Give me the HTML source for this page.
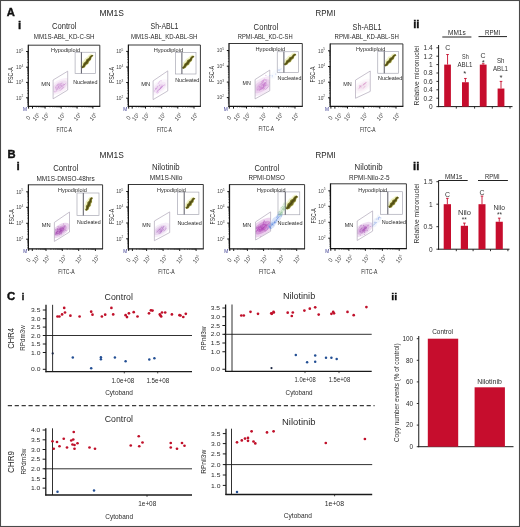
<!DOCTYPE html>
<html><head><meta charset="utf-8"><style>
html,body{margin:0;padding:0;background:#fff;width:520px;height:527px;overflow:hidden}
svg{display:block;filter:blur(0.35px)}
text{font-family:"Liberation Sans", sans-serif}
</style></head><body>
<svg width="520" height="527" viewBox="0 0 520 527">
<rect width="520" height="527" fill="#fff"/>
<rect x="0.50" y="0.50" width="519.00" height="526.00" fill="none" stroke="#4a4a4a" stroke-width="1.1"/>
<text x="6.80" y="16.00" font-size="11.2" fill="#111" font-weight="bold" text-anchor="start" stroke="#111" stroke-width="0.4">A</text>
<text x="18.10" y="28.80" font-size="11.6" fill="#111" font-weight="bold" text-anchor="start" stroke="#111" stroke-width="0.35">i</text>
<text x="7.40" y="157.80" font-size="11.2" fill="#111" font-weight="bold" text-anchor="start" stroke="#111" stroke-width="0.4">B</text>
<text x="16.50" y="170.20" font-size="11.6" fill="#111" font-weight="bold" text-anchor="start" stroke="#111" stroke-width="0.35">i</text>
<text x="7.00" y="300.30" font-size="11.4" fill="#111" font-weight="bold" text-anchor="start" stroke="#111" stroke-width="0.45">C</text>
<text x="21.80" y="300.00" font-size="9.0" fill="#111" font-weight="bold" text-anchor="start" stroke="#111" stroke-width="0.4">i</text>
<text x="413.20" y="28.00" font-size="11.0" fill="#111" font-weight="bold" textLength="6.30" lengthAdjust="spacingAndGlyphs" text-anchor="start" stroke="#111" stroke-width="0.35">ii</text>
<text x="413.00" y="170.00" font-size="11.0" fill="#111" font-weight="bold" textLength="6.30" lengthAdjust="spacingAndGlyphs" text-anchor="start" stroke="#111" stroke-width="0.35">ii</text>
<text x="391.30" y="299.80" font-size="9.6" fill="#111" font-weight="bold" textLength="6.00" lengthAdjust="spacingAndGlyphs" text-anchor="start" stroke="#111" stroke-width="0.3">ii</text>
<text x="99.50" y="16.00" font-size="8.6" fill="#1e1e1e" textLength="24.50" lengthAdjust="spacingAndGlyphs" text-anchor="start">MM1S</text>
<text x="315.60" y="15.90" font-size="8.6" fill="#1e1e1e" textLength="19.80" lengthAdjust="spacingAndGlyphs" text-anchor="start">RPMI</text>
<text x="99.60" y="157.60" font-size="8.6" fill="#1e1e1e" textLength="24.20" lengthAdjust="spacingAndGlyphs" text-anchor="start">MM1S</text>
<text x="315.60" y="157.60" font-size="8.6" fill="#1e1e1e" textLength="20.00" lengthAdjust="spacingAndGlyphs" text-anchor="start">RPMI</text>
<text x="52.00" y="28.70" font-size="8.3" fill="#2a2a2a" textLength="24.50" lengthAdjust="spacingAndGlyphs" text-anchor="start">Control</text>
<text x="33.75" y="38.60" font-size="6.4" fill="#2a2a2a" textLength="60.80" lengthAdjust="spacingAndGlyphs" text-anchor="start">MM1S-ABL_KD-C-SH</text>
<path d="M82.58,68.47 L85.05,67.39 L86.46,65.46 L88.60,64.12 L89.55,61.82 L91.21,60.09 L91.77,57.48 L93.55,55.85 L90.98,53.77 L88.83,55.10 L87.33,56.96 L85.05,58.19 L83.94,60.36 L82.14,61.98 L81.49,64.52 L80.02,66.40 Z" fill="#eef0b8" opacity="0.8"/>
<path d="M82.46,68.37 L84.78,67.18 L85.95,65.05 L88.09,63.71 L89.00,61.38 L90.87,59.82 L91.56,57.31 L93.50,55.81 L92.04,54.63 L89.89,55.96 L88.67,58.05 L86.45,59.32 L85.45,61.58 L83.50,63.08 L82.76,65.55 L81.00,67.19 Z" fill="#7a7628"/>
<path d="M82.13,68.10 L84.14,66.66 L85.34,64.56 L87.28,63.05 L88.37,60.87 L90.18,59.26 L91.17,57.00 L93.01,55.42 L92.37,54.90 L90.44,56.40 L89.21,58.48 L87.24,59.96 L86.11,62.12 L84.27,63.69 L83.25,65.94 L81.49,67.58 Z" fill="#504c14"/>
<rect x="75.10" y="52.25" width="20.40" height="21.25" fill="none" stroke="#a8a8b4" stroke-width="0.7"/>
<line x1="81.40" y1="52.25" x2="81.40" y2="73.50" stroke="#5a5a66" stroke-width="1.0"/>
<clipPath id="cp1"><path d="M53.10,80.00 L67.70,71.20 L67.70,90.00 L53.10,98.80 Z"/></clipPath><g clip-path="url(#cp1)">
<ellipse cx="59.67" cy="86.38" rx="12.65" ry="6.32" fill="#c070c8" opacity="0.10" transform="rotate(-31.1 59.67 86.38)"/>
<ellipse cx="59.67" cy="86.38" rx="8.62" ry="4.37" fill="#c070c8" opacity="0.14" transform="rotate(-31.1 59.67 86.38)"/>
<ellipse cx="59.67" cy="86.38" rx="5.17" ry="2.76" fill="#c070c8" opacity="0.17" transform="rotate(-31.1 59.67 86.38)"/>
<circle cx="59.32" cy="87.96" r="0.55" fill="#c070c8" opacity="0.45"/>
<circle cx="58.45" cy="86.27" r="0.55" fill="#c070c8" opacity="0.45"/>
<circle cx="55.94" cy="88.06" r="0.55" fill="#c070c8" opacity="0.45"/>
<circle cx="64.34" cy="84.71" r="0.55" fill="#c070c8" opacity="0.45"/>
<circle cx="63.85" cy="84.53" r="0.55" fill="#c070c8" opacity="0.45"/>
<circle cx="61.37" cy="85.85" r="0.55" fill="#c070c8" opacity="0.45"/>
<circle cx="54.45" cy="91.82" r="0.55" fill="#c070c8" opacity="0.45"/>
<circle cx="62.16" cy="86.22" r="0.55" fill="#c070c8" opacity="0.45"/>
<circle cx="51.27" cy="86.76" r="0.55" fill="#c070c8" opacity="0.45"/>
<circle cx="55.78" cy="87.46" r="0.55" fill="#c070c8" opacity="0.45"/>
<circle cx="60.76" cy="85.60" r="0.55" fill="#c070c8" opacity="0.45"/>
<circle cx="60.86" cy="83.94" r="0.55" fill="#c070c8" opacity="0.45"/>
<line x1="59.53" y1="88.60" x2="62.66" y2="84.77" stroke="#c070c8" stroke-width="0.6" opacity="0.55"/>
<line x1="61.55" y1="89.21" x2="64.21" y2="86.75" stroke="#c070c8" stroke-width="0.6" opacity="0.55"/>
<line x1="57.66" y1="88.06" x2="59.37" y2="85.46" stroke="#c070c8" stroke-width="0.6" opacity="0.55"/>
<line x1="55.75" y1="86.75" x2="58.45" y2="83.46" stroke="#c070c8" stroke-width="0.6" opacity="0.55"/>
<line x1="55.82" y1="89.80" x2="59.39" y2="86.90" stroke="#c070c8" stroke-width="0.6" opacity="0.55"/>
<line x1="59.72" y1="90.95" x2="63.32" y2="87.30" stroke="#c070c8" stroke-width="0.6" opacity="0.55"/>
<line x1="57.11" y1="85.61" x2="59.46" y2="83.99" stroke="#c070c8" stroke-width="0.6" opacity="0.55"/>
<line x1="55.27" y1="92.40" x2="57.58" y2="89.17" stroke="#c070c8" stroke-width="0.6" opacity="0.55"/>
<line x1="62.78" y1="85.95" x2="66.02" y2="83.25" stroke="#c070c8" stroke-width="0.6" opacity="0.55"/>
<line x1="59.08" y1="85.37" x2="62.30" y2="82.54" stroke="#c070c8" stroke-width="0.6" opacity="0.55"/>
</g>
<path d="M53.10,80.00 L67.70,71.20 L67.70,90.00 L53.10,98.80 Z" fill="none" stroke="#aaa0b4" stroke-width="0.65"/>
<line x1="28.30" y1="45.20" x2="99.80" y2="45.20" stroke="#383838" stroke-width="1.0"/>
<line x1="99.80" y1="45.20" x2="99.80" y2="106.40" stroke="#383838" stroke-width="1.0"/>
<line x1="28.30" y1="44.80" x2="28.30" y2="107.00" stroke="#151515" stroke-width="1.25"/>
<line x1="27.70" y1="106.40" x2="100.25" y2="106.40" stroke="#151515" stroke-width="1.25"/>
<line x1="26.10" y1="51.50" x2="28.30" y2="51.50" stroke="#151515" stroke-width="1.0"/>
<text x="16.10" y="53.20" font-size="4.8" fill="#444">10<tspan font-size="3.2" dy="-2.2">5</tspan></text>
<line x1="27.20" y1="62.47" x2="28.30" y2="62.47" stroke="#151515" stroke-width="0.6"/>
<line x1="27.20" y1="59.71" x2="28.30" y2="59.71" stroke="#151515" stroke-width="0.6"/>
<line x1="27.20" y1="57.75" x2="28.30" y2="57.75" stroke="#151515" stroke-width="0.6"/>
<line x1="27.20" y1="56.23" x2="28.30" y2="56.23" stroke="#151515" stroke-width="0.6"/>
<line x1="27.20" y1="54.98" x2="28.30" y2="54.98" stroke="#151515" stroke-width="0.6"/>
<line x1="27.20" y1="53.93" x2="28.30" y2="53.93" stroke="#151515" stroke-width="0.6"/>
<line x1="27.20" y1="53.02" x2="28.30" y2="53.02" stroke="#151515" stroke-width="0.6"/>
<line x1="27.20" y1="52.22" x2="28.30" y2="52.22" stroke="#151515" stroke-width="0.6"/>
<line x1="26.10" y1="67.20" x2="28.30" y2="67.20" stroke="#151515" stroke-width="1.0"/>
<text x="16.10" y="68.90" font-size="4.8" fill="#444">10<tspan font-size="3.2" dy="-2.2">4</tspan></text>
<line x1="27.20" y1="78.17" x2="28.30" y2="78.17" stroke="#151515" stroke-width="0.6"/>
<line x1="27.20" y1="75.41" x2="28.30" y2="75.41" stroke="#151515" stroke-width="0.6"/>
<line x1="27.20" y1="73.45" x2="28.30" y2="73.45" stroke="#151515" stroke-width="0.6"/>
<line x1="27.20" y1="71.93" x2="28.30" y2="71.93" stroke="#151515" stroke-width="0.6"/>
<line x1="27.20" y1="70.68" x2="28.30" y2="70.68" stroke="#151515" stroke-width="0.6"/>
<line x1="27.20" y1="69.63" x2="28.30" y2="69.63" stroke="#151515" stroke-width="0.6"/>
<line x1="27.20" y1="68.72" x2="28.30" y2="68.72" stroke="#151515" stroke-width="0.6"/>
<line x1="27.20" y1="67.92" x2="28.30" y2="67.92" stroke="#151515" stroke-width="0.6"/>
<line x1="26.10" y1="82.40" x2="28.30" y2="82.40" stroke="#151515" stroke-width="1.0"/>
<text x="16.10" y="84.10" font-size="4.8" fill="#444">10<tspan font-size="3.2" dy="-2.2">3</tspan></text>
<line x1="27.20" y1="93.37" x2="28.30" y2="93.37" stroke="#151515" stroke-width="0.6"/>
<line x1="27.20" y1="90.61" x2="28.30" y2="90.61" stroke="#151515" stroke-width="0.6"/>
<line x1="27.20" y1="88.65" x2="28.30" y2="88.65" stroke="#151515" stroke-width="0.6"/>
<line x1="27.20" y1="87.13" x2="28.30" y2="87.13" stroke="#151515" stroke-width="0.6"/>
<line x1="27.20" y1="85.88" x2="28.30" y2="85.88" stroke="#151515" stroke-width="0.6"/>
<line x1="27.20" y1="84.83" x2="28.30" y2="84.83" stroke="#151515" stroke-width="0.6"/>
<line x1="27.20" y1="83.92" x2="28.30" y2="83.92" stroke="#151515" stroke-width="0.6"/>
<line x1="27.20" y1="83.12" x2="28.30" y2="83.12" stroke="#151515" stroke-width="0.6"/>
<line x1="26.10" y1="97.80" x2="28.30" y2="97.80" stroke="#151515" stroke-width="1.0"/>
<text x="16.10" y="99.50" font-size="4.8" fill="#444">10<tspan font-size="3.2" dy="-2.2">2</tspan></text>
<line x1="27.20" y1="104.05" x2="28.30" y2="104.05" stroke="#151515" stroke-width="0.6"/>
<line x1="27.20" y1="102.53" x2="28.30" y2="102.53" stroke="#151515" stroke-width="0.6"/>
<line x1="27.20" y1="101.28" x2="28.30" y2="101.28" stroke="#151515" stroke-width="0.6"/>
<line x1="27.20" y1="100.23" x2="28.30" y2="100.23" stroke="#151515" stroke-width="0.6"/>
<line x1="27.20" y1="99.32" x2="28.30" y2="99.32" stroke="#151515" stroke-width="0.6"/>
<line x1="27.20" y1="98.52" x2="28.30" y2="98.52" stroke="#151515" stroke-width="0.6"/>
<line x1="28.60" y1="106.40" x2="28.60" y2="108.60" stroke="#151515" stroke-width="1.0"/>
<line x1="32.50" y1="106.40" x2="32.50" y2="108.60" stroke="#151515" stroke-width="1.0"/>
<line x1="45.10" y1="106.40" x2="45.10" y2="108.60" stroke="#151515" stroke-width="1.0"/>
<line x1="61.20" y1="106.40" x2="61.20" y2="108.60" stroke="#151515" stroke-width="1.0"/>
<line x1="77.10" y1="106.40" x2="77.10" y2="108.60" stroke="#151515" stroke-width="1.0"/>
<line x1="92.90" y1="106.40" x2="92.90" y2="108.60" stroke="#151515" stroke-width="1.0"/>
<line x1="49.95" y1="106.40" x2="49.95" y2="107.50" stroke="#151515" stroke-width="0.55"/>
<line x1="52.78" y1="106.40" x2="52.78" y2="107.50" stroke="#151515" stroke-width="0.55"/>
<line x1="54.79" y1="106.40" x2="54.79" y2="107.50" stroke="#151515" stroke-width="0.55"/>
<line x1="56.35" y1="106.40" x2="56.35" y2="107.50" stroke="#151515" stroke-width="0.55"/>
<line x1="57.63" y1="106.40" x2="57.63" y2="107.50" stroke="#151515" stroke-width="0.55"/>
<line x1="58.71" y1="106.40" x2="58.71" y2="107.50" stroke="#151515" stroke-width="0.55"/>
<line x1="59.64" y1="106.40" x2="59.64" y2="107.50" stroke="#151515" stroke-width="0.55"/>
<line x1="60.46" y1="106.40" x2="60.46" y2="107.50" stroke="#151515" stroke-width="0.55"/>
<line x1="66.05" y1="106.40" x2="66.05" y2="107.50" stroke="#151515" stroke-width="0.55"/>
<line x1="68.88" y1="106.40" x2="68.88" y2="107.50" stroke="#151515" stroke-width="0.55"/>
<line x1="70.89" y1="106.40" x2="70.89" y2="107.50" stroke="#151515" stroke-width="0.55"/>
<line x1="72.45" y1="106.40" x2="72.45" y2="107.50" stroke="#151515" stroke-width="0.55"/>
<line x1="73.73" y1="106.40" x2="73.73" y2="107.50" stroke="#151515" stroke-width="0.55"/>
<line x1="74.81" y1="106.40" x2="74.81" y2="107.50" stroke="#151515" stroke-width="0.55"/>
<line x1="75.74" y1="106.40" x2="75.74" y2="107.50" stroke="#151515" stroke-width="0.55"/>
<line x1="76.56" y1="106.40" x2="76.56" y2="107.50" stroke="#151515" stroke-width="0.55"/>
<line x1="81.95" y1="106.40" x2="81.95" y2="107.50" stroke="#151515" stroke-width="0.55"/>
<line x1="84.78" y1="106.40" x2="84.78" y2="107.50" stroke="#151515" stroke-width="0.55"/>
<line x1="86.79" y1="106.40" x2="86.79" y2="107.50" stroke="#151515" stroke-width="0.55"/>
<line x1="88.35" y1="106.40" x2="88.35" y2="107.50" stroke="#151515" stroke-width="0.55"/>
<line x1="89.63" y1="106.40" x2="89.63" y2="107.50" stroke="#151515" stroke-width="0.55"/>
<line x1="90.71" y1="106.40" x2="90.71" y2="107.50" stroke="#151515" stroke-width="0.55"/>
<line x1="91.64" y1="106.40" x2="91.64" y2="107.50" stroke="#151515" stroke-width="0.55"/>
<line x1="92.46" y1="106.40" x2="92.46" y2="107.50" stroke="#151515" stroke-width="0.55"/>
<line x1="36.29" y1="106.40" x2="36.29" y2="107.50" stroke="#151515" stroke-width="0.55"/>
<line x1="38.51" y1="106.40" x2="38.51" y2="107.50" stroke="#151515" stroke-width="0.55"/>
<line x1="40.09" y1="106.40" x2="40.09" y2="107.50" stroke="#151515" stroke-width="0.55"/>
<line x1="41.31" y1="106.40" x2="41.31" y2="107.50" stroke="#151515" stroke-width="0.55"/>
<line x1="42.30" y1="106.40" x2="42.30" y2="107.50" stroke="#151515" stroke-width="0.55"/>
<line x1="43.15" y1="106.40" x2="43.15" y2="107.50" stroke="#151515" stroke-width="0.55"/>
<line x1="43.88" y1="106.40" x2="43.88" y2="107.50" stroke="#151515" stroke-width="0.55"/>
<line x1="44.52" y1="106.40" x2="44.52" y2="107.50" stroke="#151515" stroke-width="0.55"/>
<text x="29.80" y="118.90" font-size="5.8" fill="#3a3a3a" text-anchor="middle" transform="rotate(-52 29.80 118.90)">0</text>
<text x="37.70" y="118.10" font-size="5.8" fill="#3a3a3a" text-anchor="middle" transform="rotate(-52 37.70 118.10)">10<tspan font-size="3.2" dy="-2.2">1</tspan></text>
<text x="47.00" y="118.10" font-size="5.8" fill="#3a3a3a" text-anchor="middle" transform="rotate(-52 47.00 118.10)">10<tspan font-size="3.2" dy="-2.2">2</tspan></text>
<text x="63.10" y="118.10" font-size="5.8" fill="#3a3a3a" text-anchor="middle" transform="rotate(-52 63.10 118.10)">10<tspan font-size="3.2" dy="-2.2">3</tspan></text>
<text x="79.00" y="118.10" font-size="5.8" fill="#3a3a3a" text-anchor="middle" transform="rotate(-52 79.00 118.10)">10<tspan font-size="3.2" dy="-2.2">4</tspan></text>
<text x="94.80" y="118.10" font-size="5.8" fill="#3a3a3a" text-anchor="middle" transform="rotate(-52 94.80 118.10)">10<tspan font-size="3.2" dy="-2.2">5</tspan></text>
<text x="23.10" y="110.70" font-size="4.8" fill="#3a3a90" text-anchor="start">M</text>
<text x="56.50" y="131.50" font-size="7.6" fill="#2a2a2a" textLength="15.50" lengthAdjust="spacingAndGlyphs" text-anchor="start">FITC-A</text>
<text x="13.50" y="83.20" font-size="7.8" fill="#2a2a2a" textLength="16.00" lengthAdjust="spacingAndGlyphs" text-anchor="start" transform="rotate(-90 13.50 83.20)">FSC-A</text>
<text x="51.00" y="51.70" font-size="5.7" fill="#2a2a2a" textLength="29.00" lengthAdjust="spacingAndGlyphs" text-anchor="start">Hypodiploid</text>
<text x="73.20" y="84.00" font-size="5.6" fill="#2a2a2a" textLength="24.30" lengthAdjust="spacingAndGlyphs" text-anchor="start">Nucleated</text>
<text x="41.30" y="86.00" font-size="5.6" fill="#2a2a2a" textLength="9.10" lengthAdjust="spacingAndGlyphs" text-anchor="start">MN</text>
<text x="150.60" y="29.30" font-size="8.3" fill="#2a2a2a" textLength="27.90" lengthAdjust="spacingAndGlyphs" text-anchor="start">Sh-ABL1</text>
<text x="130.90" y="38.50" font-size="6.4" fill="#2a2a2a" textLength="66.60" lengthAdjust="spacingAndGlyphs" text-anchor="start">MM1S-ABL_KD-ABL-SH</text>
<path d="M183.37,68.99 L185.84,68.01 L187.28,66.15 L189.43,64.90 L190.43,62.65 L192.11,61.00 L192.72,58.43 L194.53,56.88 L192.02,54.73 L189.85,55.97 L188.32,57.76 L186.03,58.89 L184.88,61.00 L183.06,62.54 L182.36,65.03 L180.86,66.84 Z" fill="#eef0b8" opacity="0.8"/>
<path d="M183.24,68.88 L185.58,67.79 L186.79,65.72 L188.94,64.47 L189.89,62.20 L191.78,60.72 L192.52,58.25 L194.48,56.84 L193.06,55.62 L190.89,56.86 L189.64,58.88 L187.40,60.06 L186.36,62.27 L184.40,63.68 L183.61,66.10 L181.82,67.66 Z" fill="#7a7628"/>
<path d="M182.92,68.60 L184.95,67.25 L186.19,65.22 L188.14,63.79 L189.27,61.66 L191.10,60.14 L192.14,57.93 L194.00,56.43 L193.38,55.90 L191.42,57.32 L190.16,59.33 L188.18,60.73 L187.01,62.82 L185.14,64.32 L184.08,66.51 L182.30,68.07 Z" fill="#504c14"/>
<rect x="175.60" y="52.50" width="20.40" height="21.50" fill="none" stroke="#a8a8b4" stroke-width="0.7"/>
<line x1="181.90" y1="52.50" x2="181.90" y2="74.00" stroke="#5a5a66" stroke-width="1.0"/>
<clipPath id="cp2"><path d="M153.10,80.90 L167.75,70.90 L167.75,90.90 L153.10,99.60 Z"/></clipPath><g clip-path="url(#cp2)">
<ellipse cx="159.25" cy="87.29" rx="11.55" ry="5.78" fill="#b868c8" opacity="0.06" transform="rotate(-34.3 159.25 87.29)"/>
<ellipse cx="159.25" cy="87.29" rx="7.88" ry="3.99" fill="#b868c8" opacity="0.09" transform="rotate(-34.3 159.25 87.29)"/>
<ellipse cx="159.25" cy="87.29" rx="4.73" ry="2.52" fill="#b868c8" opacity="0.11" transform="rotate(-34.3 159.25 87.29)"/>
<circle cx="155.44" cy="88.54" r="0.55" fill="#b868c8" opacity="0.45"/>
<circle cx="161.09" cy="80.86" r="0.55" fill="#b868c8" opacity="0.45"/>
<circle cx="154.73" cy="90.98" r="0.55" fill="#b868c8" opacity="0.45"/>
<circle cx="164.69" cy="85.04" r="0.55" fill="#b868c8" opacity="0.45"/>
<circle cx="150.01" cy="87.19" r="0.55" fill="#b868c8" opacity="0.45"/>
<circle cx="159.56" cy="85.20" r="0.55" fill="#b868c8" opacity="0.45"/>
<line x1="156.66" y1="92.83" x2="158.56" y2="89.44" stroke="#b868c8" stroke-width="0.6" opacity="0.55"/>
<line x1="159.25" y1="89.76" x2="161.66" y2="85.60" stroke="#b868c8" stroke-width="0.6" opacity="0.55"/>
<line x1="159.74" y1="89.42" x2="162.89" y2="85.40" stroke="#b868c8" stroke-width="0.6" opacity="0.55"/>
<line x1="160.71" y1="88.52" x2="164.15" y2="84.68" stroke="#b868c8" stroke-width="0.6" opacity="0.55"/>
<line x1="158.00" y1="83.86" x2="160.17" y2="80.81" stroke="#b868c8" stroke-width="0.6" opacity="0.55"/>
<line x1="156.78" y1="93.60" x2="159.10" y2="91.77" stroke="#b868c8" stroke-width="0.6" opacity="0.55"/>
<line x1="159.83" y1="89.58" x2="162.06" y2="86.31" stroke="#b868c8" stroke-width="0.6" opacity="0.55"/>
<line x1="156.09" y1="89.32" x2="157.90" y2="86.02" stroke="#b868c8" stroke-width="0.6" opacity="0.55"/>
<line x1="156.40" y1="92.08" x2="159.99" y2="89.23" stroke="#b868c8" stroke-width="0.6" opacity="0.55"/>
<line x1="154.55" y1="90.42" x2="156.43" y2="88.54" stroke="#b868c8" stroke-width="0.6" opacity="0.55"/>
</g>
<path d="M153.10,80.90 L167.75,70.90 L167.75,90.90 L153.10,99.60 Z" fill="none" stroke="#aaa0b4" stroke-width="0.65"/>
<line x1="128.40" y1="45.00" x2="200.40" y2="45.00" stroke="#383838" stroke-width="1.0"/>
<line x1="200.40" y1="45.00" x2="200.40" y2="106.40" stroke="#383838" stroke-width="1.0"/>
<line x1="128.40" y1="44.60" x2="128.40" y2="107.00" stroke="#151515" stroke-width="1.25"/>
<line x1="127.80" y1="106.40" x2="200.85" y2="106.40" stroke="#151515" stroke-width="1.25"/>
<line x1="126.20" y1="51.40" x2="128.40" y2="51.40" stroke="#151515" stroke-width="1.0"/>
<text x="116.20" y="53.10" font-size="4.8" fill="#444">10<tspan font-size="3.2" dy="-2.2">5</tspan></text>
<line x1="127.30" y1="62.30" x2="128.40" y2="62.30" stroke="#151515" stroke-width="0.6"/>
<line x1="127.30" y1="59.56" x2="128.40" y2="59.56" stroke="#151515" stroke-width="0.6"/>
<line x1="127.30" y1="57.61" x2="128.40" y2="57.61" stroke="#151515" stroke-width="0.6"/>
<line x1="127.30" y1="56.10" x2="128.40" y2="56.10" stroke="#151515" stroke-width="0.6"/>
<line x1="127.30" y1="54.86" x2="128.40" y2="54.86" stroke="#151515" stroke-width="0.6"/>
<line x1="127.30" y1="53.82" x2="128.40" y2="53.82" stroke="#151515" stroke-width="0.6"/>
<line x1="127.30" y1="52.91" x2="128.40" y2="52.91" stroke="#151515" stroke-width="0.6"/>
<line x1="127.30" y1="52.11" x2="128.40" y2="52.11" stroke="#151515" stroke-width="0.6"/>
<line x1="126.20" y1="67.00" x2="128.40" y2="67.00" stroke="#151515" stroke-width="1.0"/>
<text x="116.20" y="68.70" font-size="4.8" fill="#444">10<tspan font-size="3.2" dy="-2.2">4</tspan></text>
<line x1="127.30" y1="77.90" x2="128.40" y2="77.90" stroke="#151515" stroke-width="0.6"/>
<line x1="127.30" y1="75.16" x2="128.40" y2="75.16" stroke="#151515" stroke-width="0.6"/>
<line x1="127.30" y1="73.21" x2="128.40" y2="73.21" stroke="#151515" stroke-width="0.6"/>
<line x1="127.30" y1="71.70" x2="128.40" y2="71.70" stroke="#151515" stroke-width="0.6"/>
<line x1="127.30" y1="70.46" x2="128.40" y2="70.46" stroke="#151515" stroke-width="0.6"/>
<line x1="127.30" y1="69.42" x2="128.40" y2="69.42" stroke="#151515" stroke-width="0.6"/>
<line x1="127.30" y1="68.51" x2="128.40" y2="68.51" stroke="#151515" stroke-width="0.6"/>
<line x1="127.30" y1="67.71" x2="128.40" y2="67.71" stroke="#151515" stroke-width="0.6"/>
<line x1="126.20" y1="82.50" x2="128.40" y2="82.50" stroke="#151515" stroke-width="1.0"/>
<text x="116.20" y="84.20" font-size="4.8" fill="#444">10<tspan font-size="3.2" dy="-2.2">3</tspan></text>
<line x1="127.30" y1="93.40" x2="128.40" y2="93.40" stroke="#151515" stroke-width="0.6"/>
<line x1="127.30" y1="90.66" x2="128.40" y2="90.66" stroke="#151515" stroke-width="0.6"/>
<line x1="127.30" y1="88.71" x2="128.40" y2="88.71" stroke="#151515" stroke-width="0.6"/>
<line x1="127.30" y1="87.20" x2="128.40" y2="87.20" stroke="#151515" stroke-width="0.6"/>
<line x1="127.30" y1="85.96" x2="128.40" y2="85.96" stroke="#151515" stroke-width="0.6"/>
<line x1="127.30" y1="84.92" x2="128.40" y2="84.92" stroke="#151515" stroke-width="0.6"/>
<line x1="127.30" y1="84.01" x2="128.40" y2="84.01" stroke="#151515" stroke-width="0.6"/>
<line x1="127.30" y1="83.21" x2="128.40" y2="83.21" stroke="#151515" stroke-width="0.6"/>
<line x1="126.20" y1="98.20" x2="128.40" y2="98.20" stroke="#151515" stroke-width="1.0"/>
<text x="116.20" y="99.90" font-size="4.8" fill="#444">10<tspan font-size="3.2" dy="-2.2">2</tspan></text>
<line x1="127.30" y1="104.41" x2="128.40" y2="104.41" stroke="#151515" stroke-width="0.6"/>
<line x1="127.30" y1="102.90" x2="128.40" y2="102.90" stroke="#151515" stroke-width="0.6"/>
<line x1="127.30" y1="101.66" x2="128.40" y2="101.66" stroke="#151515" stroke-width="0.6"/>
<line x1="127.30" y1="100.62" x2="128.40" y2="100.62" stroke="#151515" stroke-width="0.6"/>
<line x1="127.30" y1="99.71" x2="128.40" y2="99.71" stroke="#151515" stroke-width="0.6"/>
<line x1="127.30" y1="98.91" x2="128.40" y2="98.91" stroke="#151515" stroke-width="0.6"/>
<line x1="128.70" y1="106.40" x2="128.70" y2="108.60" stroke="#151515" stroke-width="1.0"/>
<line x1="132.20" y1="106.40" x2="132.20" y2="108.60" stroke="#151515" stroke-width="1.0"/>
<line x1="145.50" y1="106.40" x2="145.50" y2="108.60" stroke="#151515" stroke-width="1.0"/>
<line x1="161.70" y1="106.40" x2="161.70" y2="108.60" stroke="#151515" stroke-width="1.0"/>
<line x1="177.80" y1="106.40" x2="177.80" y2="108.60" stroke="#151515" stroke-width="1.0"/>
<line x1="194.00" y1="106.40" x2="194.00" y2="108.60" stroke="#151515" stroke-width="1.0"/>
<line x1="150.38" y1="106.40" x2="150.38" y2="107.50" stroke="#151515" stroke-width="0.55"/>
<line x1="153.23" y1="106.40" x2="153.23" y2="107.50" stroke="#151515" stroke-width="0.55"/>
<line x1="155.25" y1="106.40" x2="155.25" y2="107.50" stroke="#151515" stroke-width="0.55"/>
<line x1="156.82" y1="106.40" x2="156.82" y2="107.50" stroke="#151515" stroke-width="0.55"/>
<line x1="158.11" y1="106.40" x2="158.11" y2="107.50" stroke="#151515" stroke-width="0.55"/>
<line x1="159.19" y1="106.40" x2="159.19" y2="107.50" stroke="#151515" stroke-width="0.55"/>
<line x1="160.13" y1="106.40" x2="160.13" y2="107.50" stroke="#151515" stroke-width="0.55"/>
<line x1="160.96" y1="106.40" x2="160.96" y2="107.50" stroke="#151515" stroke-width="0.55"/>
<line x1="166.58" y1="106.40" x2="166.58" y2="107.50" stroke="#151515" stroke-width="0.55"/>
<line x1="169.43" y1="106.40" x2="169.43" y2="107.50" stroke="#151515" stroke-width="0.55"/>
<line x1="171.45" y1="106.40" x2="171.45" y2="107.50" stroke="#151515" stroke-width="0.55"/>
<line x1="173.02" y1="106.40" x2="173.02" y2="107.50" stroke="#151515" stroke-width="0.55"/>
<line x1="174.31" y1="106.40" x2="174.31" y2="107.50" stroke="#151515" stroke-width="0.55"/>
<line x1="175.39" y1="106.40" x2="175.39" y2="107.50" stroke="#151515" stroke-width="0.55"/>
<line x1="176.33" y1="106.40" x2="176.33" y2="107.50" stroke="#151515" stroke-width="0.55"/>
<line x1="177.16" y1="106.40" x2="177.16" y2="107.50" stroke="#151515" stroke-width="0.55"/>
<line x1="182.68" y1="106.40" x2="182.68" y2="107.50" stroke="#151515" stroke-width="0.55"/>
<line x1="185.53" y1="106.40" x2="185.53" y2="107.50" stroke="#151515" stroke-width="0.55"/>
<line x1="187.55" y1="106.40" x2="187.55" y2="107.50" stroke="#151515" stroke-width="0.55"/>
<line x1="189.12" y1="106.40" x2="189.12" y2="107.50" stroke="#151515" stroke-width="0.55"/>
<line x1="190.41" y1="106.40" x2="190.41" y2="107.50" stroke="#151515" stroke-width="0.55"/>
<line x1="191.49" y1="106.40" x2="191.49" y2="107.50" stroke="#151515" stroke-width="0.55"/>
<line x1="192.43" y1="106.40" x2="192.43" y2="107.50" stroke="#151515" stroke-width="0.55"/>
<line x1="193.26" y1="106.40" x2="193.26" y2="107.50" stroke="#151515" stroke-width="0.55"/>
<line x1="136.20" y1="106.40" x2="136.20" y2="107.50" stroke="#151515" stroke-width="0.55"/>
<line x1="138.55" y1="106.40" x2="138.55" y2="107.50" stroke="#151515" stroke-width="0.55"/>
<line x1="140.21" y1="106.40" x2="140.21" y2="107.50" stroke="#151515" stroke-width="0.55"/>
<line x1="141.50" y1="106.40" x2="141.50" y2="107.50" stroke="#151515" stroke-width="0.55"/>
<line x1="142.55" y1="106.40" x2="142.55" y2="107.50" stroke="#151515" stroke-width="0.55"/>
<line x1="143.44" y1="106.40" x2="143.44" y2="107.50" stroke="#151515" stroke-width="0.55"/>
<line x1="144.21" y1="106.40" x2="144.21" y2="107.50" stroke="#151515" stroke-width="0.55"/>
<line x1="144.89" y1="106.40" x2="144.89" y2="107.50" stroke="#151515" stroke-width="0.55"/>
<text x="129.90" y="118.90" font-size="5.8" fill="#3a3a3a" text-anchor="middle" transform="rotate(-52 129.90 118.90)">0</text>
<text x="137.40" y="118.10" font-size="5.8" fill="#3a3a3a" text-anchor="middle" transform="rotate(-52 137.40 118.10)">10<tspan font-size="3.2" dy="-2.2">1</tspan></text>
<text x="147.40" y="118.10" font-size="5.8" fill="#3a3a3a" text-anchor="middle" transform="rotate(-52 147.40 118.10)">10<tspan font-size="3.2" dy="-2.2">2</tspan></text>
<text x="163.60" y="118.10" font-size="5.8" fill="#3a3a3a" text-anchor="middle" transform="rotate(-52 163.60 118.10)">10<tspan font-size="3.2" dy="-2.2">3</tspan></text>
<text x="179.70" y="118.10" font-size="5.8" fill="#3a3a3a" text-anchor="middle" transform="rotate(-52 179.70 118.10)">10<tspan font-size="3.2" dy="-2.2">4</tspan></text>
<text x="195.90" y="118.10" font-size="5.8" fill="#3a3a3a" text-anchor="middle" transform="rotate(-52 195.90 118.10)">10<tspan font-size="3.2" dy="-2.2">5</tspan></text>
<text x="123.20" y="110.70" font-size="4.8" fill="#3a3a90" text-anchor="start">M</text>
<text x="156.90" y="131.50" font-size="7.6" fill="#2a2a2a" textLength="15.00" lengthAdjust="spacingAndGlyphs" text-anchor="start">FITC-A</text>
<text x="113.60" y="83.00" font-size="7.8" fill="#2a2a2a" textLength="16.00" lengthAdjust="spacingAndGlyphs" text-anchor="start" transform="rotate(-90 113.60 83.00)">FSC-A</text>
<text x="153.75" y="52.00" font-size="5.7" fill="#2a2a2a" textLength="29.30" lengthAdjust="spacingAndGlyphs" text-anchor="start">Hypodiploid</text>
<text x="175.25" y="81.60" font-size="5.6" fill="#2a2a2a" textLength="24.10" lengthAdjust="spacingAndGlyphs" text-anchor="start">Nucleated</text>
<text x="141.25" y="85.90" font-size="5.6" fill="#2a2a2a" textLength="9.00" lengthAdjust="spacingAndGlyphs" text-anchor="start">MN</text>
<text x="253.60" y="29.70" font-size="8.3" fill="#2a2a2a" textLength="24.70" lengthAdjust="spacingAndGlyphs" text-anchor="start">Control</text>
<text x="237.80" y="38.50" font-size="6.4" fill="#2a2a2a" textLength="54.80" lengthAdjust="spacingAndGlyphs" text-anchor="start">RPMI-ABL_KD-C-SH</text>
<path d="M285.03,65.53 L287.48,64.84 L288.97,63.18 L291.12,62.19 L292.19,60.12 L293.91,58.69 L294.63,56.27 L296.45,54.95 L294.12,52.62 L291.95,53.60 L290.38,55.17 L288.10,56.03 L286.88,57.96 L285.04,59.26 L284.24,61.60 L282.70,63.20 Z" fill="#eef0b8" opacity="0.8"/>
<path d="M284.91,65.41 L287.24,64.59 L288.51,62.72 L290.66,61.73 L291.70,59.63 L293.60,58.39 L294.44,56.08 L296.41,54.91 L295.09,53.59 L292.92,54.57 L291.61,56.39 L289.38,57.31 L288.26,59.33 L286.28,60.50 L285.40,62.76 L283.59,64.09 Z" fill="#7a7628"/>
<path d="M284.61,65.11 L286.65,64.01 L287.96,62.17 L289.92,60.99 L291.12,59.05 L292.97,57.76 L294.09,55.73 L295.97,54.47 L295.39,53.89 L293.42,55.06 L292.09,56.88 L290.10,58.03 L288.86,59.93 L286.98,61.19 L285.84,63.20 L284.03,64.53 Z" fill="#504c14"/>
<rect x="277.25" y="51.75" width="21.25" height="20.85" fill="none" stroke="#a8a8b4" stroke-width="0.7"/>
<line x1="283.90" y1="51.75" x2="283.90" y2="72.60" stroke="#5a5a66" stroke-width="1.0"/>
<clipPath id="cp3"><path d="M255.10,79.50 L269.75,70.10 L269.75,90.75 L255.10,98.90 Z"/></clipPath><g clip-path="url(#cp3)">
<ellipse cx="261.69" cy="86.25" rx="14.85" ry="7.43" fill="#b858c0" opacity="0.13" transform="rotate(-32.7 261.69 86.25)"/>
<ellipse cx="261.69" cy="86.25" rx="10.12" ry="5.13" fill="#b858c0" opacity="0.19" transform="rotate(-32.7 261.69 86.25)"/>
<ellipse cx="261.69" cy="86.25" rx="6.08" ry="3.24" fill="#b858c0" opacity="0.22" transform="rotate(-32.7 261.69 86.25)"/>
<circle cx="266.26" cy="80.02" r="0.55" fill="#b858c0" opacity="0.45"/>
<circle cx="265.29" cy="79.87" r="0.55" fill="#b858c0" opacity="0.45"/>
<circle cx="259.22" cy="89.86" r="0.55" fill="#b858c0" opacity="0.45"/>
<circle cx="267.82" cy="85.07" r="0.55" fill="#b858c0" opacity="0.45"/>
<circle cx="263.39" cy="85.62" r="0.55" fill="#b858c0" opacity="0.45"/>
<circle cx="263.19" cy="87.13" r="0.55" fill="#b858c0" opacity="0.45"/>
<circle cx="261.34" cy="87.37" r="0.55" fill="#b858c0" opacity="0.45"/>
<circle cx="264.17" cy="84.66" r="0.55" fill="#b858c0" opacity="0.45"/>
<circle cx="265.82" cy="85.42" r="0.55" fill="#b858c0" opacity="0.45"/>
<circle cx="270.85" cy="81.42" r="0.55" fill="#b858c0" opacity="0.45"/>
<circle cx="259.30" cy="86.59" r="0.55" fill="#b858c0" opacity="0.45"/>
<circle cx="262.98" cy="88.38" r="0.55" fill="#b858c0" opacity="0.45"/>
<circle cx="260.80" cy="88.06" r="0.55" fill="#b858c0" opacity="0.45"/>
<circle cx="265.89" cy="75.33" r="0.55" fill="#b858c0" opacity="0.45"/>
<circle cx="257.20" cy="89.92" r="0.55" fill="#b858c0" opacity="0.45"/>
<circle cx="263.76" cy="85.69" r="0.55" fill="#b858c0" opacity="0.45"/>
<circle cx="260.79" cy="88.93" r="0.55" fill="#b858c0" opacity="0.45"/>
<circle cx="262.15" cy="84.28" r="0.55" fill="#b858c0" opacity="0.45"/>
<line x1="269.54" y1="82.90" x2="271.55" y2="80.75" stroke="#b858c0" stroke-width="0.6" opacity="0.55"/>
<line x1="258.97" y1="88.57" x2="262.68" y2="84.60" stroke="#b858c0" stroke-width="0.6" opacity="0.55"/>
<line x1="262.18" y1="82.57" x2="264.33" y2="79.68" stroke="#b858c0" stroke-width="0.6" opacity="0.55"/>
<line x1="265.35" y1="89.87" x2="268.65" y2="86.34" stroke="#b858c0" stroke-width="0.6" opacity="0.55"/>
<line x1="259.45" y1="90.31" x2="263.61" y2="86.79" stroke="#b858c0" stroke-width="0.6" opacity="0.55"/>
<line x1="261.28" y1="81.77" x2="264.89" y2="78.73" stroke="#b858c0" stroke-width="0.6" opacity="0.55"/>
<line x1="263.40" y1="89.86" x2="265.02" y2="87.84" stroke="#b858c0" stroke-width="0.6" opacity="0.55"/>
<line x1="263.27" y1="86.70" x2="266.00" y2="83.02" stroke="#b858c0" stroke-width="0.6" opacity="0.55"/>
<line x1="262.62" y1="84.87" x2="266.97" y2="81.57" stroke="#b858c0" stroke-width="0.6" opacity="0.55"/>
<line x1="263.46" y1="84.88" x2="265.31" y2="82.29" stroke="#b858c0" stroke-width="0.6" opacity="0.55"/>
<line x1="261.63" y1="89.19" x2="265.32" y2="85.53" stroke="#b858c0" stroke-width="0.6" opacity="0.55"/>
<line x1="260.48" y1="84.20" x2="264.01" y2="80.79" stroke="#b858c0" stroke-width="0.6" opacity="0.55"/>
</g>
<path d="M255.10,79.50 L269.75,70.10 L269.75,90.75 L255.10,98.90 Z" fill="none" stroke="#aaa0b4" stroke-width="0.65"/>
<path d="M268.02,75.24 L271.13,74.19 L273.52,70.74 L276.63,69.69 L279.02,66.24 L282.62,70.56 L280.23,74.01 L277.12,75.06 L274.73,78.51 L271.62,79.56 Z" fill="#8aa8e8" opacity="0.05"/>
<circle cx="269.88" cy="75.57" r="0.5" fill="#8aa8e8" opacity="0.55"/>
<circle cx="278.61" cy="69.93" r="0.5" fill="#8aa8e8" opacity="0.55"/>
<circle cx="272.16" cy="75.61" r="0.5" fill="#8aa8e8" opacity="0.55"/>
<circle cx="279.70" cy="70.63" r="0.5" fill="#8aa8e8" opacity="0.55"/>
<circle cx="275.78" cy="73.91" r="0.5" fill="#8aa8e8" opacity="0.55"/>
<circle cx="272.23" cy="76.84" r="0.5" fill="#8aa8e8" opacity="0.55"/>
<line x1="278.43" y1="70.14" x2="281.79" y2="68.73" stroke="#8aa8e8" stroke-width="0.6" opacity="0.5"/>
<line x1="229.00" y1="43.50" x2="302.30" y2="43.50" stroke="#383838" stroke-width="1.0"/>
<line x1="302.30" y1="43.50" x2="302.30" y2="106.40" stroke="#383838" stroke-width="1.0"/>
<line x1="229.00" y1="43.10" x2="229.00" y2="107.00" stroke="#151515" stroke-width="1.25"/>
<line x1="228.40" y1="106.40" x2="302.75" y2="106.40" stroke="#151515" stroke-width="1.25"/>
<line x1="226.80" y1="50.50" x2="229.00" y2="50.50" stroke="#151515" stroke-width="1.0"/>
<text x="216.80" y="52.20" font-size="4.8" fill="#444">10<tspan font-size="3.2" dy="-2.2">5</tspan></text>
<line x1="227.90" y1="61.47" x2="229.00" y2="61.47" stroke="#151515" stroke-width="0.6"/>
<line x1="227.90" y1="58.71" x2="229.00" y2="58.71" stroke="#151515" stroke-width="0.6"/>
<line x1="227.90" y1="56.75" x2="229.00" y2="56.75" stroke="#151515" stroke-width="0.6"/>
<line x1="227.90" y1="55.23" x2="229.00" y2="55.23" stroke="#151515" stroke-width="0.6"/>
<line x1="227.90" y1="53.98" x2="229.00" y2="53.98" stroke="#151515" stroke-width="0.6"/>
<line x1="227.90" y1="52.93" x2="229.00" y2="52.93" stroke="#151515" stroke-width="0.6"/>
<line x1="227.90" y1="52.02" x2="229.00" y2="52.02" stroke="#151515" stroke-width="0.6"/>
<line x1="227.90" y1="51.22" x2="229.00" y2="51.22" stroke="#151515" stroke-width="0.6"/>
<line x1="226.80" y1="66.20" x2="229.00" y2="66.20" stroke="#151515" stroke-width="1.0"/>
<text x="216.80" y="67.90" font-size="4.8" fill="#444">10<tspan font-size="3.2" dy="-2.2">4</tspan></text>
<line x1="227.90" y1="77.17" x2="229.00" y2="77.17" stroke="#151515" stroke-width="0.6"/>
<line x1="227.90" y1="74.41" x2="229.00" y2="74.41" stroke="#151515" stroke-width="0.6"/>
<line x1="227.90" y1="72.45" x2="229.00" y2="72.45" stroke="#151515" stroke-width="0.6"/>
<line x1="227.90" y1="70.93" x2="229.00" y2="70.93" stroke="#151515" stroke-width="0.6"/>
<line x1="227.90" y1="69.68" x2="229.00" y2="69.68" stroke="#151515" stroke-width="0.6"/>
<line x1="227.90" y1="68.63" x2="229.00" y2="68.63" stroke="#151515" stroke-width="0.6"/>
<line x1="227.90" y1="67.72" x2="229.00" y2="67.72" stroke="#151515" stroke-width="0.6"/>
<line x1="227.90" y1="66.92" x2="229.00" y2="66.92" stroke="#151515" stroke-width="0.6"/>
<line x1="226.80" y1="82.10" x2="229.00" y2="82.10" stroke="#151515" stroke-width="1.0"/>
<text x="216.80" y="83.80" font-size="4.8" fill="#444">10<tspan font-size="3.2" dy="-2.2">3</tspan></text>
<line x1="227.90" y1="93.07" x2="229.00" y2="93.07" stroke="#151515" stroke-width="0.6"/>
<line x1="227.90" y1="90.31" x2="229.00" y2="90.31" stroke="#151515" stroke-width="0.6"/>
<line x1="227.90" y1="88.35" x2="229.00" y2="88.35" stroke="#151515" stroke-width="0.6"/>
<line x1="227.90" y1="86.83" x2="229.00" y2="86.83" stroke="#151515" stroke-width="0.6"/>
<line x1="227.90" y1="85.58" x2="229.00" y2="85.58" stroke="#151515" stroke-width="0.6"/>
<line x1="227.90" y1="84.53" x2="229.00" y2="84.53" stroke="#151515" stroke-width="0.6"/>
<line x1="227.90" y1="83.62" x2="229.00" y2="83.62" stroke="#151515" stroke-width="0.6"/>
<line x1="227.90" y1="82.82" x2="229.00" y2="82.82" stroke="#151515" stroke-width="0.6"/>
<line x1="226.80" y1="97.60" x2="229.00" y2="97.60" stroke="#151515" stroke-width="1.0"/>
<text x="216.80" y="99.30" font-size="4.8" fill="#444">10<tspan font-size="3.2" dy="-2.2">2</tspan></text>
<line x1="227.90" y1="103.85" x2="229.00" y2="103.85" stroke="#151515" stroke-width="0.6"/>
<line x1="227.90" y1="102.33" x2="229.00" y2="102.33" stroke="#151515" stroke-width="0.6"/>
<line x1="227.90" y1="101.08" x2="229.00" y2="101.08" stroke="#151515" stroke-width="0.6"/>
<line x1="227.90" y1="100.03" x2="229.00" y2="100.03" stroke="#151515" stroke-width="0.6"/>
<line x1="227.90" y1="99.12" x2="229.00" y2="99.12" stroke="#151515" stroke-width="0.6"/>
<line x1="227.90" y1="98.32" x2="229.00" y2="98.32" stroke="#151515" stroke-width="0.6"/>
<line x1="229.30" y1="106.40" x2="229.30" y2="108.60" stroke="#151515" stroke-width="1.0"/>
<line x1="233.50" y1="106.40" x2="233.50" y2="108.60" stroke="#151515" stroke-width="1.0"/>
<line x1="246.50" y1="106.40" x2="246.50" y2="108.60" stroke="#151515" stroke-width="1.0"/>
<line x1="262.70" y1="106.40" x2="262.70" y2="108.60" stroke="#151515" stroke-width="1.0"/>
<line x1="278.80" y1="106.40" x2="278.80" y2="108.60" stroke="#151515" stroke-width="1.0"/>
<line x1="295.00" y1="106.40" x2="295.00" y2="108.60" stroke="#151515" stroke-width="1.0"/>
<line x1="251.38" y1="106.40" x2="251.38" y2="107.50" stroke="#151515" stroke-width="0.55"/>
<line x1="254.23" y1="106.40" x2="254.23" y2="107.50" stroke="#151515" stroke-width="0.55"/>
<line x1="256.25" y1="106.40" x2="256.25" y2="107.50" stroke="#151515" stroke-width="0.55"/>
<line x1="257.82" y1="106.40" x2="257.82" y2="107.50" stroke="#151515" stroke-width="0.55"/>
<line x1="259.11" y1="106.40" x2="259.11" y2="107.50" stroke="#151515" stroke-width="0.55"/>
<line x1="260.19" y1="106.40" x2="260.19" y2="107.50" stroke="#151515" stroke-width="0.55"/>
<line x1="261.13" y1="106.40" x2="261.13" y2="107.50" stroke="#151515" stroke-width="0.55"/>
<line x1="261.96" y1="106.40" x2="261.96" y2="107.50" stroke="#151515" stroke-width="0.55"/>
<line x1="267.58" y1="106.40" x2="267.58" y2="107.50" stroke="#151515" stroke-width="0.55"/>
<line x1="270.43" y1="106.40" x2="270.43" y2="107.50" stroke="#151515" stroke-width="0.55"/>
<line x1="272.45" y1="106.40" x2="272.45" y2="107.50" stroke="#151515" stroke-width="0.55"/>
<line x1="274.02" y1="106.40" x2="274.02" y2="107.50" stroke="#151515" stroke-width="0.55"/>
<line x1="275.31" y1="106.40" x2="275.31" y2="107.50" stroke="#151515" stroke-width="0.55"/>
<line x1="276.39" y1="106.40" x2="276.39" y2="107.50" stroke="#151515" stroke-width="0.55"/>
<line x1="277.33" y1="106.40" x2="277.33" y2="107.50" stroke="#151515" stroke-width="0.55"/>
<line x1="278.16" y1="106.40" x2="278.16" y2="107.50" stroke="#151515" stroke-width="0.55"/>
<line x1="283.68" y1="106.40" x2="283.68" y2="107.50" stroke="#151515" stroke-width="0.55"/>
<line x1="286.53" y1="106.40" x2="286.53" y2="107.50" stroke="#151515" stroke-width="0.55"/>
<line x1="288.55" y1="106.40" x2="288.55" y2="107.50" stroke="#151515" stroke-width="0.55"/>
<line x1="290.12" y1="106.40" x2="290.12" y2="107.50" stroke="#151515" stroke-width="0.55"/>
<line x1="291.41" y1="106.40" x2="291.41" y2="107.50" stroke="#151515" stroke-width="0.55"/>
<line x1="292.49" y1="106.40" x2="292.49" y2="107.50" stroke="#151515" stroke-width="0.55"/>
<line x1="293.43" y1="106.40" x2="293.43" y2="107.50" stroke="#151515" stroke-width="0.55"/>
<line x1="294.26" y1="106.40" x2="294.26" y2="107.50" stroke="#151515" stroke-width="0.55"/>
<line x1="237.41" y1="106.40" x2="237.41" y2="107.50" stroke="#151515" stroke-width="0.55"/>
<line x1="239.70" y1="106.40" x2="239.70" y2="107.50" stroke="#151515" stroke-width="0.55"/>
<line x1="241.33" y1="106.40" x2="241.33" y2="107.50" stroke="#151515" stroke-width="0.55"/>
<line x1="242.59" y1="106.40" x2="242.59" y2="107.50" stroke="#151515" stroke-width="0.55"/>
<line x1="243.62" y1="106.40" x2="243.62" y2="107.50" stroke="#151515" stroke-width="0.55"/>
<line x1="244.49" y1="106.40" x2="244.49" y2="107.50" stroke="#151515" stroke-width="0.55"/>
<line x1="245.24" y1="106.40" x2="245.24" y2="107.50" stroke="#151515" stroke-width="0.55"/>
<line x1="245.91" y1="106.40" x2="245.91" y2="107.50" stroke="#151515" stroke-width="0.55"/>
<text x="230.50" y="118.90" font-size="5.8" fill="#3a3a3a" text-anchor="middle" transform="rotate(-52 230.50 118.90)">0</text>
<text x="238.70" y="118.10" font-size="5.8" fill="#3a3a3a" text-anchor="middle" transform="rotate(-52 238.70 118.10)">10<tspan font-size="3.2" dy="-2.2">1</tspan></text>
<text x="248.40" y="118.10" font-size="5.8" fill="#3a3a3a" text-anchor="middle" transform="rotate(-52 248.40 118.10)">10<tspan font-size="3.2" dy="-2.2">2</tspan></text>
<text x="264.60" y="118.10" font-size="5.8" fill="#3a3a3a" text-anchor="middle" transform="rotate(-52 264.60 118.10)">10<tspan font-size="3.2" dy="-2.2">3</tspan></text>
<text x="280.70" y="118.10" font-size="5.8" fill="#3a3a3a" text-anchor="middle" transform="rotate(-52 280.70 118.10)">10<tspan font-size="3.2" dy="-2.2">4</tspan></text>
<text x="296.90" y="118.10" font-size="5.8" fill="#3a3a3a" text-anchor="middle" transform="rotate(-52 296.90 118.10)">10<tspan font-size="3.2" dy="-2.2">5</tspan></text>
<text x="223.80" y="110.70" font-size="4.8" fill="#3a3a90" text-anchor="start">M</text>
<text x="258.40" y="131.40" font-size="7.6" fill="#2a2a2a" textLength="15.60" lengthAdjust="spacingAndGlyphs" text-anchor="start">FITC-A</text>
<text x="214.20" y="82.00" font-size="7.8" fill="#2a2a2a" textLength="16.00" lengthAdjust="spacingAndGlyphs" text-anchor="start" transform="rotate(-90 214.20 82.00)">FSC-A</text>
<text x="255.50" y="50.70" font-size="5.7" fill="#2a2a2a" textLength="29.60" lengthAdjust="spacingAndGlyphs" text-anchor="start">Hypodiploid</text>
<text x="277.60" y="80.10" font-size="5.6" fill="#2a2a2a" textLength="23.80" lengthAdjust="spacingAndGlyphs" text-anchor="start">Nucleated</text>
<text x="242.60" y="85.10" font-size="5.6" fill="#2a2a2a" textLength="8.20" lengthAdjust="spacingAndGlyphs" text-anchor="start">MN</text>
<text x="352.60" y="29.80" font-size="8.3" fill="#2a2a2a" textLength="28.90" lengthAdjust="spacingAndGlyphs" text-anchor="start">Sh-ABL1</text>
<text x="334.60" y="38.50" font-size="6.4" fill="#2a2a2a" textLength="64.20" lengthAdjust="spacingAndGlyphs" text-anchor="start">RPMI-ABL_KD-ABL-SH</text>
<path d="M385.55,66.51 L387.97,65.70 L389.39,63.98 L391.49,62.89 L392.47,60.77 L394.12,59.26 L394.73,56.81 L396.50,55.41 L394.06,53.19 L391.94,54.26 L390.44,55.90 L388.20,56.87 L387.07,58.85 L385.28,60.24 L384.59,62.61 L383.12,64.28 Z" fill="#eef0b8" opacity="0.8"/>
<path d="M385.43,66.39 L387.72,65.47 L388.90,63.54 L391.01,62.45 L391.95,60.30 L393.80,58.97 L394.53,56.63 L396.45,55.37 L395.07,54.11 L392.95,55.18 L391.72,57.07 L389.53,58.09 L388.51,60.16 L386.58,61.42 L385.80,63.72 L384.05,65.13 Z" fill="#7a7628"/>
<path d="M385.12,66.11 L387.11,64.91 L388.33,63.01 L390.24,61.74 L391.35,59.75 L393.14,58.37 L394.16,56.29 L395.99,54.95 L395.38,54.39 L393.47,55.66 L392.23,57.54 L390.28,58.77 L389.13,60.74 L387.30,62.08 L386.26,64.14 L384.51,65.55 Z" fill="#504c14"/>
<rect x="377.75" y="51.40" width="20.85" height="21.85" fill="none" stroke="#a8a8b4" stroke-width="0.7"/>
<line x1="384.25" y1="51.40" x2="384.25" y2="73.25" stroke="#5a5a66" stroke-width="1.0"/>
<clipPath id="cp4"><path d="M355.50,80.10 L370.25,71.00 L370.25,91.40 L355.50,98.25 Z"/></clipPath><g clip-path="url(#cp4)">
<ellipse cx="362.88" cy="86.15" rx="11.00" ry="5.50" fill="#d080c0" opacity="0.06" transform="rotate(-31.7 362.88 86.15)"/>
<ellipse cx="362.88" cy="86.15" rx="7.50" ry="3.80" fill="#d080c0" opacity="0.08" transform="rotate(-31.7 362.88 86.15)"/>
<ellipse cx="362.88" cy="86.15" rx="4.50" ry="2.40" fill="#d080c0" opacity="0.09" transform="rotate(-31.7 362.88 86.15)"/>
<circle cx="360.41" cy="85.85" r="0.55" fill="#d080c0" opacity="0.45"/>
<circle cx="361.07" cy="86.89" r="0.55" fill="#d080c0" opacity="0.45"/>
<circle cx="371.69" cy="81.27" r="0.55" fill="#d080c0" opacity="0.45"/>
<circle cx="359.51" cy="85.91" r="0.55" fill="#d080c0" opacity="0.45"/>
<line x1="362.90" y1="85.33" x2="366.83" y2="82.28" stroke="#d080c0" stroke-width="0.6" opacity="0.55"/>
<line x1="363.20" y1="88.51" x2="365.20" y2="85.98" stroke="#d080c0" stroke-width="0.6" opacity="0.55"/>
<line x1="359.76" y1="87.53" x2="361.67" y2="85.36" stroke="#d080c0" stroke-width="0.6" opacity="0.55"/>
<line x1="362.88" y1="85.54" x2="365.74" y2="82.40" stroke="#d080c0" stroke-width="0.6" opacity="0.55"/>
<line x1="362.79" y1="84.88" x2="366.00" y2="82.49" stroke="#d080c0" stroke-width="0.6" opacity="0.55"/>
<line x1="358.54" y1="89.20" x2="360.55" y2="85.95" stroke="#d080c0" stroke-width="0.6" opacity="0.55"/>
</g>
<path d="M355.50,80.10 L370.25,71.00 L370.25,91.40 L355.50,98.25 Z" fill="none" stroke="#aaa0b4" stroke-width="0.65"/>
<line x1="330.20" y1="43.90" x2="402.90" y2="43.90" stroke="#383838" stroke-width="1.0"/>
<line x1="402.90" y1="43.90" x2="402.90" y2="106.40" stroke="#383838" stroke-width="1.0"/>
<line x1="330.20" y1="43.50" x2="330.20" y2="107.00" stroke="#151515" stroke-width="1.25"/>
<line x1="329.60" y1="106.40" x2="403.35" y2="106.40" stroke="#151515" stroke-width="1.25"/>
<line x1="328.00" y1="50.80" x2="330.20" y2="50.80" stroke="#151515" stroke-width="1.0"/>
<text x="318.00" y="52.50" font-size="4.8" fill="#444">10<tspan font-size="3.2" dy="-2.2">5</tspan></text>
<line x1="329.10" y1="61.77" x2="330.20" y2="61.77" stroke="#151515" stroke-width="0.6"/>
<line x1="329.10" y1="59.01" x2="330.20" y2="59.01" stroke="#151515" stroke-width="0.6"/>
<line x1="329.10" y1="57.05" x2="330.20" y2="57.05" stroke="#151515" stroke-width="0.6"/>
<line x1="329.10" y1="55.53" x2="330.20" y2="55.53" stroke="#151515" stroke-width="0.6"/>
<line x1="329.10" y1="54.28" x2="330.20" y2="54.28" stroke="#151515" stroke-width="0.6"/>
<line x1="329.10" y1="53.23" x2="330.20" y2="53.23" stroke="#151515" stroke-width="0.6"/>
<line x1="329.10" y1="52.32" x2="330.20" y2="52.32" stroke="#151515" stroke-width="0.6"/>
<line x1="329.10" y1="51.52" x2="330.20" y2="51.52" stroke="#151515" stroke-width="0.6"/>
<line x1="328.00" y1="66.50" x2="330.20" y2="66.50" stroke="#151515" stroke-width="1.0"/>
<text x="318.00" y="68.20" font-size="4.8" fill="#444">10<tspan font-size="3.2" dy="-2.2">4</tspan></text>
<line x1="329.10" y1="77.47" x2="330.20" y2="77.47" stroke="#151515" stroke-width="0.6"/>
<line x1="329.10" y1="74.71" x2="330.20" y2="74.71" stroke="#151515" stroke-width="0.6"/>
<line x1="329.10" y1="72.75" x2="330.20" y2="72.75" stroke="#151515" stroke-width="0.6"/>
<line x1="329.10" y1="71.23" x2="330.20" y2="71.23" stroke="#151515" stroke-width="0.6"/>
<line x1="329.10" y1="69.98" x2="330.20" y2="69.98" stroke="#151515" stroke-width="0.6"/>
<line x1="329.10" y1="68.93" x2="330.20" y2="68.93" stroke="#151515" stroke-width="0.6"/>
<line x1="329.10" y1="68.02" x2="330.20" y2="68.02" stroke="#151515" stroke-width="0.6"/>
<line x1="329.10" y1="67.22" x2="330.20" y2="67.22" stroke="#151515" stroke-width="0.6"/>
<line x1="328.00" y1="82.20" x2="330.20" y2="82.20" stroke="#151515" stroke-width="1.0"/>
<text x="318.00" y="83.90" font-size="4.8" fill="#444">10<tspan font-size="3.2" dy="-2.2">3</tspan></text>
<line x1="329.10" y1="93.17" x2="330.20" y2="93.17" stroke="#151515" stroke-width="0.6"/>
<line x1="329.10" y1="90.41" x2="330.20" y2="90.41" stroke="#151515" stroke-width="0.6"/>
<line x1="329.10" y1="88.45" x2="330.20" y2="88.45" stroke="#151515" stroke-width="0.6"/>
<line x1="329.10" y1="86.93" x2="330.20" y2="86.93" stroke="#151515" stroke-width="0.6"/>
<line x1="329.10" y1="85.68" x2="330.20" y2="85.68" stroke="#151515" stroke-width="0.6"/>
<line x1="329.10" y1="84.63" x2="330.20" y2="84.63" stroke="#151515" stroke-width="0.6"/>
<line x1="329.10" y1="83.72" x2="330.20" y2="83.72" stroke="#151515" stroke-width="0.6"/>
<line x1="329.10" y1="82.92" x2="330.20" y2="82.92" stroke="#151515" stroke-width="0.6"/>
<line x1="328.00" y1="97.80" x2="330.20" y2="97.80" stroke="#151515" stroke-width="1.0"/>
<text x="318.00" y="99.50" font-size="4.8" fill="#444">10<tspan font-size="3.2" dy="-2.2">2</tspan></text>
<line x1="329.10" y1="104.05" x2="330.20" y2="104.05" stroke="#151515" stroke-width="0.6"/>
<line x1="329.10" y1="102.53" x2="330.20" y2="102.53" stroke="#151515" stroke-width="0.6"/>
<line x1="329.10" y1="101.28" x2="330.20" y2="101.28" stroke="#151515" stroke-width="0.6"/>
<line x1="329.10" y1="100.23" x2="330.20" y2="100.23" stroke="#151515" stroke-width="0.6"/>
<line x1="329.10" y1="99.32" x2="330.20" y2="99.32" stroke="#151515" stroke-width="0.6"/>
<line x1="329.10" y1="98.52" x2="330.20" y2="98.52" stroke="#151515" stroke-width="0.6"/>
<line x1="330.90" y1="106.40" x2="330.90" y2="108.60" stroke="#151515" stroke-width="1.0"/>
<line x1="334.90" y1="106.40" x2="334.90" y2="108.60" stroke="#151515" stroke-width="1.0"/>
<line x1="347.50" y1="106.40" x2="347.50" y2="108.60" stroke="#151515" stroke-width="1.0"/>
<line x1="363.70" y1="106.40" x2="363.70" y2="108.60" stroke="#151515" stroke-width="1.0"/>
<line x1="379.80" y1="106.40" x2="379.80" y2="108.60" stroke="#151515" stroke-width="1.0"/>
<line x1="396.00" y1="106.40" x2="396.00" y2="108.60" stroke="#151515" stroke-width="1.0"/>
<line x1="352.38" y1="106.40" x2="352.38" y2="107.50" stroke="#151515" stroke-width="0.55"/>
<line x1="355.23" y1="106.40" x2="355.23" y2="107.50" stroke="#151515" stroke-width="0.55"/>
<line x1="357.25" y1="106.40" x2="357.25" y2="107.50" stroke="#151515" stroke-width="0.55"/>
<line x1="358.82" y1="106.40" x2="358.82" y2="107.50" stroke="#151515" stroke-width="0.55"/>
<line x1="360.11" y1="106.40" x2="360.11" y2="107.50" stroke="#151515" stroke-width="0.55"/>
<line x1="361.19" y1="106.40" x2="361.19" y2="107.50" stroke="#151515" stroke-width="0.55"/>
<line x1="362.13" y1="106.40" x2="362.13" y2="107.50" stroke="#151515" stroke-width="0.55"/>
<line x1="362.96" y1="106.40" x2="362.96" y2="107.50" stroke="#151515" stroke-width="0.55"/>
<line x1="368.58" y1="106.40" x2="368.58" y2="107.50" stroke="#151515" stroke-width="0.55"/>
<line x1="371.43" y1="106.40" x2="371.43" y2="107.50" stroke="#151515" stroke-width="0.55"/>
<line x1="373.45" y1="106.40" x2="373.45" y2="107.50" stroke="#151515" stroke-width="0.55"/>
<line x1="375.02" y1="106.40" x2="375.02" y2="107.50" stroke="#151515" stroke-width="0.55"/>
<line x1="376.31" y1="106.40" x2="376.31" y2="107.50" stroke="#151515" stroke-width="0.55"/>
<line x1="377.39" y1="106.40" x2="377.39" y2="107.50" stroke="#151515" stroke-width="0.55"/>
<line x1="378.33" y1="106.40" x2="378.33" y2="107.50" stroke="#151515" stroke-width="0.55"/>
<line x1="379.16" y1="106.40" x2="379.16" y2="107.50" stroke="#151515" stroke-width="0.55"/>
<line x1="384.68" y1="106.40" x2="384.68" y2="107.50" stroke="#151515" stroke-width="0.55"/>
<line x1="387.53" y1="106.40" x2="387.53" y2="107.50" stroke="#151515" stroke-width="0.55"/>
<line x1="389.55" y1="106.40" x2="389.55" y2="107.50" stroke="#151515" stroke-width="0.55"/>
<line x1="391.12" y1="106.40" x2="391.12" y2="107.50" stroke="#151515" stroke-width="0.55"/>
<line x1="392.41" y1="106.40" x2="392.41" y2="107.50" stroke="#151515" stroke-width="0.55"/>
<line x1="393.49" y1="106.40" x2="393.49" y2="107.50" stroke="#151515" stroke-width="0.55"/>
<line x1="394.43" y1="106.40" x2="394.43" y2="107.50" stroke="#151515" stroke-width="0.55"/>
<line x1="395.26" y1="106.40" x2="395.26" y2="107.50" stroke="#151515" stroke-width="0.55"/>
<line x1="338.69" y1="106.40" x2="338.69" y2="107.50" stroke="#151515" stroke-width="0.55"/>
<line x1="340.91" y1="106.40" x2="340.91" y2="107.50" stroke="#151515" stroke-width="0.55"/>
<line x1="342.49" y1="106.40" x2="342.49" y2="107.50" stroke="#151515" stroke-width="0.55"/>
<line x1="343.71" y1="106.40" x2="343.71" y2="107.50" stroke="#151515" stroke-width="0.55"/>
<line x1="344.70" y1="106.40" x2="344.70" y2="107.50" stroke="#151515" stroke-width="0.55"/>
<line x1="345.55" y1="106.40" x2="345.55" y2="107.50" stroke="#151515" stroke-width="0.55"/>
<line x1="346.28" y1="106.40" x2="346.28" y2="107.50" stroke="#151515" stroke-width="0.55"/>
<line x1="346.92" y1="106.40" x2="346.92" y2="107.50" stroke="#151515" stroke-width="0.55"/>
<text x="332.10" y="118.90" font-size="5.8" fill="#3a3a3a" text-anchor="middle" transform="rotate(-52 332.10 118.90)">0</text>
<text x="340.10" y="118.10" font-size="5.8" fill="#3a3a3a" text-anchor="middle" transform="rotate(-52 340.10 118.10)">10<tspan font-size="3.2" dy="-2.2">1</tspan></text>
<text x="349.40" y="118.10" font-size="5.8" fill="#3a3a3a" text-anchor="middle" transform="rotate(-52 349.40 118.10)">10<tspan font-size="3.2" dy="-2.2">2</tspan></text>
<text x="365.60" y="118.10" font-size="5.8" fill="#3a3a3a" text-anchor="middle" transform="rotate(-52 365.60 118.10)">10<tspan font-size="3.2" dy="-2.2">3</tspan></text>
<text x="381.70" y="118.10" font-size="5.8" fill="#3a3a3a" text-anchor="middle" transform="rotate(-52 381.70 118.10)">10<tspan font-size="3.2" dy="-2.2">4</tspan></text>
<text x="397.90" y="118.10" font-size="5.8" fill="#3a3a3a" text-anchor="middle" transform="rotate(-52 397.90 118.10)">10<tspan font-size="3.2" dy="-2.2">5</tspan></text>
<text x="325.00" y="110.70" font-size="4.8" fill="#3a3a90" text-anchor="start">M</text>
<text x="360.00" y="131.50" font-size="7.6" fill="#2a2a2a" textLength="15.60" lengthAdjust="spacingAndGlyphs" text-anchor="start">FITC-A</text>
<text x="315.40" y="82.50" font-size="7.8" fill="#2a2a2a" textLength="16.00" lengthAdjust="spacingAndGlyphs" text-anchor="start" transform="rotate(-90 315.40 82.50)">FSC-A</text>
<text x="356.10" y="51.00" font-size="5.7" fill="#2a2a2a" textLength="29.15" lengthAdjust="spacingAndGlyphs" text-anchor="start">Hypodiploid</text>
<text x="378.00" y="79.80" font-size="5.6" fill="#2a2a2a" textLength="24.40" lengthAdjust="spacingAndGlyphs" text-anchor="start">Nucleated</text>
<text x="343.25" y="86.00" font-size="5.6" fill="#2a2a2a" textLength="8.50" lengthAdjust="spacingAndGlyphs" text-anchor="start">MN</text>
<text x="53.20" y="170.70" font-size="8.3" fill="#2a2a2a" textLength="25.00" lengthAdjust="spacingAndGlyphs" text-anchor="start">Control</text>
<text x="36.40" y="180.50" font-size="6.4" fill="#2a2a2a" textLength="58.30" lengthAdjust="spacingAndGlyphs" text-anchor="start">MM1S-DMSO-48hrs</text>
<path d="M86.99,210.84 L88.97,209.49 L89.69,207.60 L91.26,206.07 L91.41,203.94 L92.37,202.15 L92.03,199.80 L93.14,198.08 L89.91,196.69 L88.32,198.20 L87.48,200.04 L85.74,201.50 L85.39,203.55 L84.25,205.26 L84.48,207.56 L83.76,209.45 Z" fill="#eef0b8" opacity="0.8"/>
<path d="M86.84,210.77 L88.65,209.36 L89.09,207.34 L90.66,205.82 L90.76,203.66 L91.97,201.98 L91.78,199.69 L93.08,198.05 L91.16,197.23 L89.58,198.74 L89.07,200.73 L87.40,202.21 L87.18,204.32 L85.86,205.95 L85.99,208.21 L84.92,209.95 Z" fill="#7a7628"/>
<path d="M86.39,210.58 L87.82,208.99 L88.28,206.99 L89.60,205.36 L89.91,203.29 L91.07,201.59 L91.25,199.47 L92.45,197.78 L91.61,197.42 L90.29,199.05 L89.79,201.04 L88.43,202.65 L88.06,204.70 L86.86,206.38 L86.64,208.49 L85.55,210.22 Z" fill="#504c14"/>
<rect x="77.00" y="193.00" width="22.00" height="22.50" fill="none" stroke="#a8a8b4" stroke-width="0.7"/>
<line x1="83.30" y1="193.00" x2="83.30" y2="215.50" stroke="#5a5a66" stroke-width="1.0"/>
<clipPath id="cp5"><path d="M54.40,222.40 L69.50,212.00 L69.50,232.00 L54.40,241.40 Z"/></clipPath><g clip-path="url(#cp5)">
<ellipse cx="60.14" cy="230.46" rx="11.00" ry="5.50" fill="#9a30a8" opacity="0.20" transform="rotate(-34.6 60.14 230.46)"/>
<ellipse cx="60.14" cy="230.46" rx="7.50" ry="3.80" fill="#9a30a8" opacity="0.28" transform="rotate(-34.6 60.14 230.46)"/>
<ellipse cx="60.14" cy="230.46" rx="4.50" ry="2.40" fill="#9a30a8" opacity="0.34" transform="rotate(-34.6 60.14 230.46)"/>
<circle cx="60.34" cy="230.52" r="0.55" fill="#9a30a8" opacity="0.45"/>
<circle cx="60.06" cy="229.10" r="0.55" fill="#9a30a8" opacity="0.45"/>
<circle cx="55.48" cy="234.32" r="0.55" fill="#9a30a8" opacity="0.45"/>
<circle cx="57.18" cy="231.75" r="0.55" fill="#9a30a8" opacity="0.45"/>
<circle cx="56.01" cy="232.95" r="0.55" fill="#9a30a8" opacity="0.45"/>
<circle cx="59.93" cy="229.48" r="0.55" fill="#9a30a8" opacity="0.45"/>
<circle cx="57.62" cy="231.52" r="0.55" fill="#9a30a8" opacity="0.45"/>
<circle cx="61.16" cy="233.88" r="0.55" fill="#9a30a8" opacity="0.45"/>
<circle cx="56.05" cy="233.13" r="0.55" fill="#9a30a8" opacity="0.45"/>
<circle cx="58.07" cy="226.54" r="0.55" fill="#9a30a8" opacity="0.45"/>
<circle cx="56.64" cy="234.04" r="0.55" fill="#9a30a8" opacity="0.45"/>
<circle cx="56.34" cy="232.98" r="0.55" fill="#9a30a8" opacity="0.45"/>
<circle cx="57.76" cy="229.60" r="0.55" fill="#9a30a8" opacity="0.45"/>
<circle cx="56.38" cy="232.48" r="0.55" fill="#9a30a8" opacity="0.45"/>
<circle cx="64.03" cy="226.43" r="0.55" fill="#9a30a8" opacity="0.45"/>
<circle cx="63.58" cy="224.04" r="0.55" fill="#9a30a8" opacity="0.45"/>
<circle cx="61.35" cy="232.74" r="0.55" fill="#9a30a8" opacity="0.45"/>
<circle cx="64.99" cy="225.50" r="0.55" fill="#9a30a8" opacity="0.45"/>
<circle cx="61.61" cy="230.39" r="0.55" fill="#9a30a8" opacity="0.45"/>
<circle cx="59.16" cy="231.47" r="0.55" fill="#9a30a8" opacity="0.45"/>
<circle cx="60.65" cy="231.05" r="0.55" fill="#9a30a8" opacity="0.45"/>
<circle cx="55.75" cy="229.77" r="0.55" fill="#9a30a8" opacity="0.45"/>
<circle cx="61.19" cy="228.89" r="0.55" fill="#9a30a8" opacity="0.45"/>
<circle cx="57.54" cy="228.77" r="0.55" fill="#9a30a8" opacity="0.45"/>
<circle cx="66.01" cy="230.35" r="0.55" fill="#9a30a8" opacity="0.45"/>
<circle cx="62.13" cy="228.74" r="0.55" fill="#9a30a8" opacity="0.45"/>
<circle cx="62.82" cy="227.90" r="0.55" fill="#9a30a8" opacity="0.45"/>
<circle cx="50.96" cy="237.37" r="0.55" fill="#9a30a8" opacity="0.45"/>
<circle cx="60.47" cy="228.98" r="0.55" fill="#9a30a8" opacity="0.45"/>
<circle cx="57.28" cy="233.65" r="0.55" fill="#9a30a8" opacity="0.45"/>
<line x1="58.60" y1="233.96" x2="61.34" y2="230.19" stroke="#9a30a8" stroke-width="0.6" opacity="0.55"/>
<line x1="62.64" y1="229.59" x2="64.25" y2="227.61" stroke="#9a30a8" stroke-width="0.6" opacity="0.55"/>
<line x1="59.09" y1="234.86" x2="60.84" y2="232.82" stroke="#9a30a8" stroke-width="0.6" opacity="0.55"/>
<line x1="63.16" y1="228.05" x2="65.37" y2="226.31" stroke="#9a30a8" stroke-width="0.6" opacity="0.55"/>
<line x1="59.21" y1="232.15" x2="61.64" y2="229.90" stroke="#9a30a8" stroke-width="0.6" opacity="0.55"/>
<line x1="60.96" y1="232.20" x2="64.77" y2="229.04" stroke="#9a30a8" stroke-width="0.6" opacity="0.55"/>
</g>
<path d="M54.40,222.40 L69.50,212.00 L69.50,232.00 L54.40,241.40 Z" fill="none" stroke="#aaa0b4" stroke-width="0.65"/>
<line x1="28.40" y1="184.80" x2="102.60" y2="184.80" stroke="#383838" stroke-width="1.0"/>
<line x1="102.60" y1="184.80" x2="102.60" y2="248.75" stroke="#383838" stroke-width="1.0"/>
<line x1="28.40" y1="184.40" x2="28.40" y2="249.35" stroke="#151515" stroke-width="1.25"/>
<line x1="27.80" y1="248.75" x2="103.05" y2="248.75" stroke="#151515" stroke-width="1.25"/>
<line x1="26.20" y1="191.80" x2="28.40" y2="191.80" stroke="#151515" stroke-width="1.0"/>
<text x="16.20" y="193.50" font-size="4.8" fill="#444">10<tspan font-size="3.2" dy="-2.2">5</tspan></text>
<line x1="27.30" y1="202.63" x2="28.40" y2="202.63" stroke="#151515" stroke-width="0.6"/>
<line x1="27.30" y1="199.90" x2="28.40" y2="199.90" stroke="#151515" stroke-width="0.6"/>
<line x1="27.30" y1="197.97" x2="28.40" y2="197.97" stroke="#151515" stroke-width="0.6"/>
<line x1="27.30" y1="196.47" x2="28.40" y2="196.47" stroke="#151515" stroke-width="0.6"/>
<line x1="27.30" y1="195.24" x2="28.40" y2="195.24" stroke="#151515" stroke-width="0.6"/>
<line x1="27.30" y1="194.20" x2="28.40" y2="194.20" stroke="#151515" stroke-width="0.6"/>
<line x1="27.30" y1="193.30" x2="28.40" y2="193.30" stroke="#151515" stroke-width="0.6"/>
<line x1="27.30" y1="192.51" x2="28.40" y2="192.51" stroke="#151515" stroke-width="0.6"/>
<line x1="26.20" y1="207.30" x2="28.40" y2="207.30" stroke="#151515" stroke-width="1.0"/>
<text x="16.20" y="209.00" font-size="4.8" fill="#444">10<tspan font-size="3.2" dy="-2.2">4</tspan></text>
<line x1="27.30" y1="218.13" x2="28.40" y2="218.13" stroke="#151515" stroke-width="0.6"/>
<line x1="27.30" y1="215.40" x2="28.40" y2="215.40" stroke="#151515" stroke-width="0.6"/>
<line x1="27.30" y1="213.47" x2="28.40" y2="213.47" stroke="#151515" stroke-width="0.6"/>
<line x1="27.30" y1="211.97" x2="28.40" y2="211.97" stroke="#151515" stroke-width="0.6"/>
<line x1="27.30" y1="210.74" x2="28.40" y2="210.74" stroke="#151515" stroke-width="0.6"/>
<line x1="27.30" y1="209.70" x2="28.40" y2="209.70" stroke="#151515" stroke-width="0.6"/>
<line x1="27.30" y1="208.80" x2="28.40" y2="208.80" stroke="#151515" stroke-width="0.6"/>
<line x1="27.30" y1="208.01" x2="28.40" y2="208.01" stroke="#151515" stroke-width="0.6"/>
<line x1="26.20" y1="223.30" x2="28.40" y2="223.30" stroke="#151515" stroke-width="1.0"/>
<text x="16.20" y="225.00" font-size="4.8" fill="#444">10<tspan font-size="3.2" dy="-2.2">3</tspan></text>
<line x1="27.30" y1="234.13" x2="28.40" y2="234.13" stroke="#151515" stroke-width="0.6"/>
<line x1="27.30" y1="231.40" x2="28.40" y2="231.40" stroke="#151515" stroke-width="0.6"/>
<line x1="27.30" y1="229.47" x2="28.40" y2="229.47" stroke="#151515" stroke-width="0.6"/>
<line x1="27.30" y1="227.97" x2="28.40" y2="227.97" stroke="#151515" stroke-width="0.6"/>
<line x1="27.30" y1="226.74" x2="28.40" y2="226.74" stroke="#151515" stroke-width="0.6"/>
<line x1="27.30" y1="225.70" x2="28.40" y2="225.70" stroke="#151515" stroke-width="0.6"/>
<line x1="27.30" y1="224.80" x2="28.40" y2="224.80" stroke="#151515" stroke-width="0.6"/>
<line x1="27.30" y1="224.01" x2="28.40" y2="224.01" stroke="#151515" stroke-width="0.6"/>
<line x1="26.20" y1="239.20" x2="28.40" y2="239.20" stroke="#151515" stroke-width="1.0"/>
<text x="16.20" y="240.90" font-size="4.8" fill="#444">10<tspan font-size="3.2" dy="-2.2">2</tspan></text>
<line x1="27.30" y1="247.30" x2="28.40" y2="247.30" stroke="#151515" stroke-width="0.6"/>
<line x1="27.30" y1="245.37" x2="28.40" y2="245.37" stroke="#151515" stroke-width="0.6"/>
<line x1="27.30" y1="243.87" x2="28.40" y2="243.87" stroke="#151515" stroke-width="0.6"/>
<line x1="27.30" y1="242.64" x2="28.40" y2="242.64" stroke="#151515" stroke-width="0.6"/>
<line x1="27.30" y1="241.60" x2="28.40" y2="241.60" stroke="#151515" stroke-width="0.6"/>
<line x1="27.30" y1="240.70" x2="28.40" y2="240.70" stroke="#151515" stroke-width="0.6"/>
<line x1="27.30" y1="239.91" x2="28.40" y2="239.91" stroke="#151515" stroke-width="0.6"/>
<line x1="28.70" y1="248.75" x2="28.70" y2="250.95" stroke="#151515" stroke-width="1.0"/>
<line x1="32.30" y1="248.75" x2="32.30" y2="250.95" stroke="#151515" stroke-width="1.0"/>
<line x1="46.00" y1="248.75" x2="46.00" y2="250.95" stroke="#151515" stroke-width="1.0"/>
<line x1="62.30" y1="248.75" x2="62.30" y2="250.95" stroke="#151515" stroke-width="1.0"/>
<line x1="78.70" y1="248.75" x2="78.70" y2="250.95" stroke="#151515" stroke-width="1.0"/>
<line x1="95.40" y1="248.75" x2="95.40" y2="250.95" stroke="#151515" stroke-width="1.0"/>
<line x1="50.91" y1="248.75" x2="50.91" y2="249.85" stroke="#151515" stroke-width="0.55"/>
<line x1="53.78" y1="248.75" x2="53.78" y2="249.85" stroke="#151515" stroke-width="0.55"/>
<line x1="55.81" y1="248.75" x2="55.81" y2="249.85" stroke="#151515" stroke-width="0.55"/>
<line x1="57.39" y1="248.75" x2="57.39" y2="249.85" stroke="#151515" stroke-width="0.55"/>
<line x1="58.68" y1="248.75" x2="58.68" y2="249.85" stroke="#151515" stroke-width="0.55"/>
<line x1="59.78" y1="248.75" x2="59.78" y2="249.85" stroke="#151515" stroke-width="0.55"/>
<line x1="60.72" y1="248.75" x2="60.72" y2="249.85" stroke="#151515" stroke-width="0.55"/>
<line x1="61.55" y1="248.75" x2="61.55" y2="249.85" stroke="#151515" stroke-width="0.55"/>
<line x1="67.21" y1="248.75" x2="67.21" y2="249.85" stroke="#151515" stroke-width="0.55"/>
<line x1="70.08" y1="248.75" x2="70.08" y2="249.85" stroke="#151515" stroke-width="0.55"/>
<line x1="72.11" y1="248.75" x2="72.11" y2="249.85" stroke="#151515" stroke-width="0.55"/>
<line x1="73.69" y1="248.75" x2="73.69" y2="249.85" stroke="#151515" stroke-width="0.55"/>
<line x1="74.98" y1="248.75" x2="74.98" y2="249.85" stroke="#151515" stroke-width="0.55"/>
<line x1="76.08" y1="248.75" x2="76.08" y2="249.85" stroke="#151515" stroke-width="0.55"/>
<line x1="77.02" y1="248.75" x2="77.02" y2="249.85" stroke="#151515" stroke-width="0.55"/>
<line x1="77.85" y1="248.75" x2="77.85" y2="249.85" stroke="#151515" stroke-width="0.55"/>
<line x1="83.61" y1="248.75" x2="83.61" y2="249.85" stroke="#151515" stroke-width="0.55"/>
<line x1="86.48" y1="248.75" x2="86.48" y2="249.85" stroke="#151515" stroke-width="0.55"/>
<line x1="88.51" y1="248.75" x2="88.51" y2="249.85" stroke="#151515" stroke-width="0.55"/>
<line x1="90.09" y1="248.75" x2="90.09" y2="249.85" stroke="#151515" stroke-width="0.55"/>
<line x1="91.38" y1="248.75" x2="91.38" y2="249.85" stroke="#151515" stroke-width="0.55"/>
<line x1="92.48" y1="248.75" x2="92.48" y2="249.85" stroke="#151515" stroke-width="0.55"/>
<line x1="93.42" y1="248.75" x2="93.42" y2="249.85" stroke="#151515" stroke-width="0.55"/>
<line x1="94.25" y1="248.75" x2="94.25" y2="249.85" stroke="#151515" stroke-width="0.55"/>
<line x1="36.42" y1="248.75" x2="36.42" y2="249.85" stroke="#151515" stroke-width="0.55"/>
<line x1="38.84" y1="248.75" x2="38.84" y2="249.85" stroke="#151515" stroke-width="0.55"/>
<line x1="40.55" y1="248.75" x2="40.55" y2="249.85" stroke="#151515" stroke-width="0.55"/>
<line x1="41.88" y1="248.75" x2="41.88" y2="249.85" stroke="#151515" stroke-width="0.55"/>
<line x1="42.96" y1="248.75" x2="42.96" y2="249.85" stroke="#151515" stroke-width="0.55"/>
<line x1="43.88" y1="248.75" x2="43.88" y2="249.85" stroke="#151515" stroke-width="0.55"/>
<line x1="44.67" y1="248.75" x2="44.67" y2="249.85" stroke="#151515" stroke-width="0.55"/>
<line x1="45.37" y1="248.75" x2="45.37" y2="249.85" stroke="#151515" stroke-width="0.55"/>
<text x="29.90" y="261.25" font-size="5.8" fill="#3a3a3a" text-anchor="middle" transform="rotate(-52 29.90 261.25)">0</text>
<text x="37.50" y="260.45" font-size="5.8" fill="#3a3a3a" text-anchor="middle" transform="rotate(-52 37.50 260.45)">10<tspan font-size="3.2" dy="-2.2">1</tspan></text>
<text x="47.90" y="260.45" font-size="5.8" fill="#3a3a3a" text-anchor="middle" transform="rotate(-52 47.90 260.45)">10<tspan font-size="3.2" dy="-2.2">2</tspan></text>
<text x="64.20" y="260.45" font-size="5.8" fill="#3a3a3a" text-anchor="middle" transform="rotate(-52 64.20 260.45)">10<tspan font-size="3.2" dy="-2.2">3</tspan></text>
<text x="80.60" y="260.45" font-size="5.8" fill="#3a3a3a" text-anchor="middle" transform="rotate(-52 80.60 260.45)">10<tspan font-size="3.2" dy="-2.2">4</tspan></text>
<text x="97.30" y="260.45" font-size="5.8" fill="#3a3a3a" text-anchor="middle" transform="rotate(-52 97.30 260.45)">10<tspan font-size="3.2" dy="-2.2">5</tspan></text>
<text x="23.20" y="253.05" font-size="4.8" fill="#3a3a90" text-anchor="start">M</text>
<text x="58.30" y="273.70" font-size="7.6" fill="#2a2a2a" textLength="16.20" lengthAdjust="spacingAndGlyphs" text-anchor="start">FITC-A</text>
<text x="13.60" y="224.60" font-size="7.8" fill="#2a2a2a" textLength="15.40" lengthAdjust="spacingAndGlyphs" text-anchor="start" transform="rotate(-90 13.60 224.60)">FSC-A</text>
<text x="57.90" y="192.30" font-size="5.7" fill="#2a2a2a" textLength="28.90" lengthAdjust="spacingAndGlyphs" text-anchor="start">Hypodiploid</text>
<text x="77.00" y="224.10" font-size="5.6" fill="#2a2a2a" textLength="23.60" lengthAdjust="spacingAndGlyphs" text-anchor="start">Nucleated</text>
<text x="41.80" y="227.00" font-size="5.6" fill="#2a2a2a" textLength="9.00" lengthAdjust="spacingAndGlyphs" text-anchor="start">MN</text>
<text x="152.00" y="170.30" font-size="8.3" fill="#2a2a2a" textLength="27.70" lengthAdjust="spacingAndGlyphs" text-anchor="start">Nilotinib</text>
<text x="149.80" y="180.20" font-size="6.4" fill="#2a2a2a" textLength="32.70" lengthAdjust="spacingAndGlyphs" text-anchor="start">MM1S-Nilo</text>
<path d="M186.94,208.99 L189.09,208.25 L190.15,206.69 L191.95,205.69 L192.53,203.77 L193.82,202.38 L194.00,200.14 L195.42,198.85 L192.71,196.78 L190.89,197.77 L189.73,199.26 L187.78,200.14 L187.03,201.94 L185.59,203.22 L185.32,205.38 L184.23,206.92 Z" fill="#eef0b8" opacity="0.8"/>
<path d="M186.81,208.89 L188.81,208.04 L189.63,206.30 L191.44,205.30 L191.97,203.34 L193.48,202.12 L193.78,199.98 L195.37,198.81 L193.79,197.61 L191.98,198.60 L191.10,200.31 L189.21,201.24 L188.58,203.12 L186.98,204.28 L186.63,206.38 L185.23,207.69 Z" fill="#7a7628"/>
<path d="M186.45,208.61 L188.12,207.52 L188.97,205.79 L190.56,204.63 L191.28,202.81 L192.74,201.55 L193.36,199.65 L194.85,198.42 L194.15,197.89 L192.56,199.05 L191.69,200.75 L190.07,201.89 L189.30,203.67 L187.80,204.90 L187.16,206.79 L185.75,208.08 Z" fill="#504c14"/>
<rect x="177.40" y="192.10" width="21.50" height="22.40" fill="none" stroke="#a8a8b4" stroke-width="0.7"/>
<line x1="184.20" y1="192.10" x2="184.20" y2="214.50" stroke="#5a5a66" stroke-width="1.0"/>
<clipPath id="cp6"><path d="M154.40,221.00 L169.70,211.90 L169.70,232.50 L154.40,240.70 Z"/></clipPath><g clip-path="url(#cp6)">
<ellipse cx="160.21" cy="229.97" rx="11.00" ry="5.50" fill="#a050b8" opacity="0.10" transform="rotate(-30.7 160.21 229.97)"/>
<ellipse cx="160.21" cy="229.97" rx="7.50" ry="3.80" fill="#a050b8" opacity="0.14" transform="rotate(-30.7 160.21 229.97)"/>
<ellipse cx="160.21" cy="229.97" rx="4.50" ry="2.40" fill="#a050b8" opacity="0.17" transform="rotate(-30.7 160.21 229.97)"/>
<circle cx="160.69" cy="231.00" r="0.55" fill="#a050b8" opacity="0.45"/>
<circle cx="163.28" cy="226.67" r="0.55" fill="#a050b8" opacity="0.45"/>
<circle cx="159.36" cy="229.52" r="0.55" fill="#a050b8" opacity="0.45"/>
<circle cx="165.43" cy="228.12" r="0.55" fill="#a050b8" opacity="0.45"/>
<circle cx="159.26" cy="230.94" r="0.55" fill="#a050b8" opacity="0.45"/>
<circle cx="163.96" cy="226.50" r="0.55" fill="#a050b8" opacity="0.45"/>
<circle cx="160.24" cy="229.03" r="0.55" fill="#a050b8" opacity="0.45"/>
<circle cx="160.67" cy="229.02" r="0.55" fill="#a050b8" opacity="0.45"/>
<circle cx="161.70" cy="227.14" r="0.55" fill="#a050b8" opacity="0.45"/>
<circle cx="159.11" cy="233.13" r="0.55" fill="#a050b8" opacity="0.45"/>
<circle cx="162.17" cy="227.99" r="0.55" fill="#a050b8" opacity="0.45"/>
<circle cx="163.87" cy="229.86" r="0.55" fill="#a050b8" opacity="0.45"/>
<line x1="160.06" y1="231.89" x2="161.63" y2="229.75" stroke="#a050b8" stroke-width="0.6" opacity="0.55"/>
<line x1="160.29" y1="232.97" x2="163.33" y2="229.29" stroke="#a050b8" stroke-width="0.6" opacity="0.55"/>
<line x1="159.69" y1="234.00" x2="161.80" y2="231.15" stroke="#a050b8" stroke-width="0.6" opacity="0.55"/>
<line x1="160.99" y1="230.95" x2="163.52" y2="227.00" stroke="#a050b8" stroke-width="0.6" opacity="0.55"/>
<line x1="156.57" y1="232.44" x2="160.23" y2="228.61" stroke="#a050b8" stroke-width="0.6" opacity="0.55"/>
<line x1="163.89" y1="231.37" x2="166.59" y2="228.44" stroke="#a050b8" stroke-width="0.6" opacity="0.55"/>
</g>
<path d="M154.40,221.00 L169.70,211.90 L169.70,232.50 L154.40,240.70 Z" fill="none" stroke="#aaa0b4" stroke-width="0.65"/>
<line x1="128.40" y1="184.50" x2="203.30" y2="184.50" stroke="#383838" stroke-width="1.0"/>
<line x1="203.30" y1="184.50" x2="203.30" y2="248.75" stroke="#383838" stroke-width="1.0"/>
<line x1="128.40" y1="184.10" x2="128.40" y2="249.35" stroke="#151515" stroke-width="1.25"/>
<line x1="127.80" y1="248.75" x2="203.75" y2="248.75" stroke="#151515" stroke-width="1.25"/>
<line x1="126.20" y1="191.50" x2="128.40" y2="191.50" stroke="#151515" stroke-width="1.0"/>
<text x="116.20" y="193.20" font-size="4.8" fill="#444">10<tspan font-size="3.2" dy="-2.2">5</tspan></text>
<line x1="127.30" y1="202.33" x2="128.40" y2="202.33" stroke="#151515" stroke-width="0.6"/>
<line x1="127.30" y1="199.60" x2="128.40" y2="199.60" stroke="#151515" stroke-width="0.6"/>
<line x1="127.30" y1="197.67" x2="128.40" y2="197.67" stroke="#151515" stroke-width="0.6"/>
<line x1="127.30" y1="196.17" x2="128.40" y2="196.17" stroke="#151515" stroke-width="0.6"/>
<line x1="127.30" y1="194.94" x2="128.40" y2="194.94" stroke="#151515" stroke-width="0.6"/>
<line x1="127.30" y1="193.90" x2="128.40" y2="193.90" stroke="#151515" stroke-width="0.6"/>
<line x1="127.30" y1="193.00" x2="128.40" y2="193.00" stroke="#151515" stroke-width="0.6"/>
<line x1="127.30" y1="192.21" x2="128.40" y2="192.21" stroke="#151515" stroke-width="0.6"/>
<line x1="126.20" y1="207.00" x2="128.40" y2="207.00" stroke="#151515" stroke-width="1.0"/>
<text x="116.20" y="208.70" font-size="4.8" fill="#444">10<tspan font-size="3.2" dy="-2.2">4</tspan></text>
<line x1="127.30" y1="217.83" x2="128.40" y2="217.83" stroke="#151515" stroke-width="0.6"/>
<line x1="127.30" y1="215.10" x2="128.40" y2="215.10" stroke="#151515" stroke-width="0.6"/>
<line x1="127.30" y1="213.17" x2="128.40" y2="213.17" stroke="#151515" stroke-width="0.6"/>
<line x1="127.30" y1="211.67" x2="128.40" y2="211.67" stroke="#151515" stroke-width="0.6"/>
<line x1="127.30" y1="210.44" x2="128.40" y2="210.44" stroke="#151515" stroke-width="0.6"/>
<line x1="127.30" y1="209.40" x2="128.40" y2="209.40" stroke="#151515" stroke-width="0.6"/>
<line x1="127.30" y1="208.50" x2="128.40" y2="208.50" stroke="#151515" stroke-width="0.6"/>
<line x1="127.30" y1="207.71" x2="128.40" y2="207.71" stroke="#151515" stroke-width="0.6"/>
<line x1="126.20" y1="223.00" x2="128.40" y2="223.00" stroke="#151515" stroke-width="1.0"/>
<text x="116.20" y="224.70" font-size="4.8" fill="#444">10<tspan font-size="3.2" dy="-2.2">3</tspan></text>
<line x1="127.30" y1="233.83" x2="128.40" y2="233.83" stroke="#151515" stroke-width="0.6"/>
<line x1="127.30" y1="231.10" x2="128.40" y2="231.10" stroke="#151515" stroke-width="0.6"/>
<line x1="127.30" y1="229.17" x2="128.40" y2="229.17" stroke="#151515" stroke-width="0.6"/>
<line x1="127.30" y1="227.67" x2="128.40" y2="227.67" stroke="#151515" stroke-width="0.6"/>
<line x1="127.30" y1="226.44" x2="128.40" y2="226.44" stroke="#151515" stroke-width="0.6"/>
<line x1="127.30" y1="225.40" x2="128.40" y2="225.40" stroke="#151515" stroke-width="0.6"/>
<line x1="127.30" y1="224.50" x2="128.40" y2="224.50" stroke="#151515" stroke-width="0.6"/>
<line x1="127.30" y1="223.71" x2="128.40" y2="223.71" stroke="#151515" stroke-width="0.6"/>
<line x1="126.20" y1="238.80" x2="128.40" y2="238.80" stroke="#151515" stroke-width="1.0"/>
<text x="116.20" y="240.50" font-size="4.8" fill="#444">10<tspan font-size="3.2" dy="-2.2">2</tspan></text>
<line x1="127.30" y1="246.90" x2="128.40" y2="246.90" stroke="#151515" stroke-width="0.6"/>
<line x1="127.30" y1="244.97" x2="128.40" y2="244.97" stroke="#151515" stroke-width="0.6"/>
<line x1="127.30" y1="243.47" x2="128.40" y2="243.47" stroke="#151515" stroke-width="0.6"/>
<line x1="127.30" y1="242.24" x2="128.40" y2="242.24" stroke="#151515" stroke-width="0.6"/>
<line x1="127.30" y1="241.20" x2="128.40" y2="241.20" stroke="#151515" stroke-width="0.6"/>
<line x1="127.30" y1="240.30" x2="128.40" y2="240.30" stroke="#151515" stroke-width="0.6"/>
<line x1="127.30" y1="239.51" x2="128.40" y2="239.51" stroke="#151515" stroke-width="0.6"/>
<line x1="128.70" y1="248.75" x2="128.70" y2="250.95" stroke="#151515" stroke-width="1.0"/>
<line x1="132.40" y1="248.75" x2="132.40" y2="250.95" stroke="#151515" stroke-width="1.0"/>
<line x1="146.60" y1="248.75" x2="146.60" y2="250.95" stroke="#151515" stroke-width="1.0"/>
<line x1="163.10" y1="248.75" x2="163.10" y2="250.95" stroke="#151515" stroke-width="1.0"/>
<line x1="179.70" y1="248.75" x2="179.70" y2="250.95" stroke="#151515" stroke-width="1.0"/>
<line x1="196.10" y1="248.75" x2="196.10" y2="250.95" stroke="#151515" stroke-width="1.0"/>
<line x1="151.57" y1="248.75" x2="151.57" y2="249.85" stroke="#151515" stroke-width="0.55"/>
<line x1="154.47" y1="248.75" x2="154.47" y2="249.85" stroke="#151515" stroke-width="0.55"/>
<line x1="156.53" y1="248.75" x2="156.53" y2="249.85" stroke="#151515" stroke-width="0.55"/>
<line x1="158.13" y1="248.75" x2="158.13" y2="249.85" stroke="#151515" stroke-width="0.55"/>
<line x1="159.44" y1="248.75" x2="159.44" y2="249.85" stroke="#151515" stroke-width="0.55"/>
<line x1="160.54" y1="248.75" x2="160.54" y2="249.85" stroke="#151515" stroke-width="0.55"/>
<line x1="161.50" y1="248.75" x2="161.50" y2="249.85" stroke="#151515" stroke-width="0.55"/>
<line x1="162.35" y1="248.75" x2="162.35" y2="249.85" stroke="#151515" stroke-width="0.55"/>
<line x1="168.07" y1="248.75" x2="168.07" y2="249.85" stroke="#151515" stroke-width="0.55"/>
<line x1="170.97" y1="248.75" x2="170.97" y2="249.85" stroke="#151515" stroke-width="0.55"/>
<line x1="173.03" y1="248.75" x2="173.03" y2="249.85" stroke="#151515" stroke-width="0.55"/>
<line x1="174.63" y1="248.75" x2="174.63" y2="249.85" stroke="#151515" stroke-width="0.55"/>
<line x1="175.94" y1="248.75" x2="175.94" y2="249.85" stroke="#151515" stroke-width="0.55"/>
<line x1="177.04" y1="248.75" x2="177.04" y2="249.85" stroke="#151515" stroke-width="0.55"/>
<line x1="178.00" y1="248.75" x2="178.00" y2="249.85" stroke="#151515" stroke-width="0.55"/>
<line x1="178.85" y1="248.75" x2="178.85" y2="249.85" stroke="#151515" stroke-width="0.55"/>
<line x1="184.67" y1="248.75" x2="184.67" y2="249.85" stroke="#151515" stroke-width="0.55"/>
<line x1="187.57" y1="248.75" x2="187.57" y2="249.85" stroke="#151515" stroke-width="0.55"/>
<line x1="189.63" y1="248.75" x2="189.63" y2="249.85" stroke="#151515" stroke-width="0.55"/>
<line x1="191.23" y1="248.75" x2="191.23" y2="249.85" stroke="#151515" stroke-width="0.55"/>
<line x1="192.54" y1="248.75" x2="192.54" y2="249.85" stroke="#151515" stroke-width="0.55"/>
<line x1="193.64" y1="248.75" x2="193.64" y2="249.85" stroke="#151515" stroke-width="0.55"/>
<line x1="194.60" y1="248.75" x2="194.60" y2="249.85" stroke="#151515" stroke-width="0.55"/>
<line x1="195.45" y1="248.75" x2="195.45" y2="249.85" stroke="#151515" stroke-width="0.55"/>
<line x1="136.67" y1="248.75" x2="136.67" y2="249.85" stroke="#151515" stroke-width="0.55"/>
<line x1="139.18" y1="248.75" x2="139.18" y2="249.85" stroke="#151515" stroke-width="0.55"/>
<line x1="140.95" y1="248.75" x2="140.95" y2="249.85" stroke="#151515" stroke-width="0.55"/>
<line x1="142.33" y1="248.75" x2="142.33" y2="249.85" stroke="#151515" stroke-width="0.55"/>
<line x1="143.45" y1="248.75" x2="143.45" y2="249.85" stroke="#151515" stroke-width="0.55"/>
<line x1="144.40" y1="248.75" x2="144.40" y2="249.85" stroke="#151515" stroke-width="0.55"/>
<line x1="145.22" y1="248.75" x2="145.22" y2="249.85" stroke="#151515" stroke-width="0.55"/>
<line x1="145.95" y1="248.75" x2="145.95" y2="249.85" stroke="#151515" stroke-width="0.55"/>
<text x="129.90" y="261.25" font-size="5.8" fill="#3a3a3a" text-anchor="middle" transform="rotate(-52 129.90 261.25)">0</text>
<text x="137.60" y="260.45" font-size="5.8" fill="#3a3a3a" text-anchor="middle" transform="rotate(-52 137.60 260.45)">10<tspan font-size="3.2" dy="-2.2">1</tspan></text>
<text x="148.50" y="260.45" font-size="5.8" fill="#3a3a3a" text-anchor="middle" transform="rotate(-52 148.50 260.45)">10<tspan font-size="3.2" dy="-2.2">2</tspan></text>
<text x="165.00" y="260.45" font-size="5.8" fill="#3a3a3a" text-anchor="middle" transform="rotate(-52 165.00 260.45)">10<tspan font-size="3.2" dy="-2.2">3</tspan></text>
<text x="181.60" y="260.45" font-size="5.8" fill="#3a3a3a" text-anchor="middle" transform="rotate(-52 181.60 260.45)">10<tspan font-size="3.2" dy="-2.2">4</tspan></text>
<text x="198.00" y="260.45" font-size="5.8" fill="#3a3a3a" text-anchor="middle" transform="rotate(-52 198.00 260.45)">10<tspan font-size="3.2" dy="-2.2">5</tspan></text>
<text x="123.20" y="253.05" font-size="4.8" fill="#3a3a90" text-anchor="start">M</text>
<text x="158.30" y="273.60" font-size="7.6" fill="#2a2a2a" textLength="16.20" lengthAdjust="spacingAndGlyphs" text-anchor="start">FITC-A</text>
<text x="113.60" y="224.30" font-size="7.8" fill="#2a2a2a" textLength="15.40" lengthAdjust="spacingAndGlyphs" text-anchor="start" transform="rotate(-90 113.60 224.30)">FSC-A</text>
<text x="157.00" y="192.10" font-size="5.7" fill="#2a2a2a" textLength="28.90" lengthAdjust="spacingAndGlyphs" text-anchor="start">Hypodiploid</text>
<text x="177.40" y="225.30" font-size="5.6" fill="#2a2a2a" textLength="24.30" lengthAdjust="spacingAndGlyphs" text-anchor="start">Nucleated</text>
<text x="142.30" y="226.80" font-size="5.6" fill="#2a2a2a" textLength="8.40" lengthAdjust="spacingAndGlyphs" text-anchor="start">MN</text>
<text x="254.60" y="170.70" font-size="8.3" fill="#2a2a2a" textLength="24.50" lengthAdjust="spacingAndGlyphs" text-anchor="start">Control</text>
<text x="248.40" y="180.30" font-size="6.4" fill="#2a2a2a" textLength="36.40" lengthAdjust="spacingAndGlyphs" text-anchor="start">RPMI-DMSO</text>
<path d="M287.34,209.68 L289.90,208.68 L291.39,206.81 L293.56,205.50 L294.50,203.19 L296.09,201.40 L296.57,198.72 L298.31,197.06 L295.23,194.57 L293.03,195.87 L291.44,197.65 L289.10,198.83 L287.97,200.98 L286.21,202.63 L285.63,205.23 L284.26,207.19 Z" fill="#eef0b8" opacity="0.8"/>
<path d="M287.21,209.57 L289.64,208.47 L290.88,206.40 L293.06,205.09 L293.95,202.74 L295.76,201.13 L296.36,198.55 L298.26,197.01 L296.29,195.43 L294.10,196.73 L292.79,198.73 L290.50,199.96 L289.49,202.21 L287.57,203.73 L286.91,206.26 L285.24,207.99 Z" fill="#7a7628"/>
<path d="M286.74,209.19 L288.80,207.79 L290.03,205.72 L291.98,204.22 L293.06,202.03 L294.85,200.40 L295.80,198.10 L297.63,196.51 L296.76,195.81 L294.81,197.30 L293.54,199.34 L291.55,200.80 L290.41,202.95 L288.58,204.54 L287.59,206.81 L285.87,208.49 Z" fill="#504c14"/>
<rect x="278.00" y="191.90" width="21.75" height="22.85" fill="none" stroke="#a8a8b4" stroke-width="0.7"/>
<line x1="285.25" y1="191.90" x2="285.25" y2="214.75" stroke="#5a5a66" stroke-width="1.0"/>
<clipPath id="cp7"><path d="M255.60,221.90 L270.60,211.90 L270.60,231.25 L255.60,240.00 Z"/></clipPath><g clip-path="url(#cp7)">
<ellipse cx="262.35" cy="227.66" rx="14.30" ry="7.15" fill="#a830b0" opacity="0.22" transform="rotate(-33.7 262.35 227.66)"/>
<ellipse cx="262.35" cy="227.66" rx="9.75" ry="4.94" fill="#a830b0" opacity="0.32" transform="rotate(-33.7 262.35 227.66)"/>
<ellipse cx="262.35" cy="227.66" rx="5.85" ry="3.12" fill="#a830b0" opacity="0.38" transform="rotate(-33.7 262.35 227.66)"/>
<circle cx="263.19" cy="224.41" r="0.55" fill="#a830b0" opacity="0.45"/>
<circle cx="255.99" cy="231.70" r="0.55" fill="#a830b0" opacity="0.45"/>
<circle cx="265.95" cy="224.95" r="0.55" fill="#a830b0" opacity="0.45"/>
<circle cx="263.57" cy="222.60" r="0.55" fill="#a830b0" opacity="0.45"/>
<circle cx="258.49" cy="227.84" r="0.55" fill="#a830b0" opacity="0.45"/>
<circle cx="261.95" cy="228.78" r="0.55" fill="#a830b0" opacity="0.45"/>
<circle cx="263.83" cy="227.55" r="0.55" fill="#a830b0" opacity="0.45"/>
<circle cx="261.06" cy="226.13" r="0.55" fill="#a830b0" opacity="0.45"/>
<circle cx="263.76" cy="227.84" r="0.55" fill="#a830b0" opacity="0.45"/>
<circle cx="264.41" cy="220.98" r="0.55" fill="#a830b0" opacity="0.45"/>
<circle cx="259.72" cy="227.19" r="0.55" fill="#a830b0" opacity="0.45"/>
<circle cx="263.72" cy="229.35" r="0.55" fill="#a830b0" opacity="0.45"/>
<circle cx="260.23" cy="229.54" r="0.55" fill="#a830b0" opacity="0.45"/>
<circle cx="259.70" cy="230.25" r="0.55" fill="#a830b0" opacity="0.45"/>
<circle cx="272.14" cy="219.14" r="0.55" fill="#a830b0" opacity="0.45"/>
<circle cx="259.09" cy="229.15" r="0.55" fill="#a830b0" opacity="0.45"/>
<circle cx="265.54" cy="224.96" r="0.55" fill="#a830b0" opacity="0.45"/>
<circle cx="262.28" cy="227.82" r="0.55" fill="#a830b0" opacity="0.45"/>
<circle cx="260.03" cy="231.61" r="0.55" fill="#a830b0" opacity="0.45"/>
<circle cx="259.58" cy="229.47" r="0.55" fill="#a830b0" opacity="0.45"/>
<circle cx="261.94" cy="227.93" r="0.55" fill="#a830b0" opacity="0.45"/>
<circle cx="262.81" cy="228.70" r="0.55" fill="#a830b0" opacity="0.45"/>
<circle cx="261.63" cy="228.68" r="0.55" fill="#a830b0" opacity="0.45"/>
<circle cx="265.99" cy="225.61" r="0.55" fill="#a830b0" opacity="0.45"/>
<circle cx="264.84" cy="230.13" r="0.55" fill="#a830b0" opacity="0.45"/>
<circle cx="255.18" cy="231.50" r="0.55" fill="#a830b0" opacity="0.45"/>
<circle cx="256.86" cy="227.18" r="0.55" fill="#a830b0" opacity="0.45"/>
<circle cx="264.32" cy="224.21" r="0.55" fill="#a830b0" opacity="0.45"/>
<circle cx="260.58" cy="236.87" r="0.55" fill="#a830b0" opacity="0.45"/>
<circle cx="268.11" cy="227.87" r="0.55" fill="#a830b0" opacity="0.45"/>
<circle cx="261.25" cy="227.67" r="0.55" fill="#a830b0" opacity="0.45"/>
<circle cx="264.16" cy="220.79" r="0.55" fill="#a830b0" opacity="0.45"/>
<circle cx="256.01" cy="228.25" r="0.55" fill="#a830b0" opacity="0.45"/>
<circle cx="262.48" cy="226.00" r="0.55" fill="#a830b0" opacity="0.45"/>
<circle cx="257.28" cy="230.49" r="0.55" fill="#a830b0" opacity="0.45"/>
<circle cx="263.88" cy="221.78" r="0.55" fill="#a830b0" opacity="0.45"/>
<circle cx="263.17" cy="223.45" r="0.55" fill="#a830b0" opacity="0.45"/>
<circle cx="265.86" cy="222.37" r="0.55" fill="#a830b0" opacity="0.45"/>
<circle cx="260.34" cy="226.89" r="0.55" fill="#a830b0" opacity="0.45"/>
<circle cx="264.65" cy="226.45" r="0.55" fill="#a830b0" opacity="0.45"/>
<line x1="260.36" y1="230.54" x2="263.53" y2="227.82" stroke="#a830b0" stroke-width="0.6" opacity="0.55"/>
<line x1="256.17" y1="228.76" x2="259.01" y2="225.98" stroke="#a830b0" stroke-width="0.6" opacity="0.55"/>
<line x1="266.74" y1="225.25" x2="269.68" y2="222.53" stroke="#a830b0" stroke-width="0.6" opacity="0.55"/>
<line x1="255.98" y1="232.02" x2="258.40" y2="227.97" stroke="#a830b0" stroke-width="0.6" opacity="0.55"/>
<line x1="261.59" y1="230.52" x2="264.32" y2="226.71" stroke="#a830b0" stroke-width="0.6" opacity="0.55"/>
<line x1="264.75" y1="231.64" x2="267.91" y2="229.22" stroke="#a830b0" stroke-width="0.6" opacity="0.55"/>
</g>
<path d="M255.60,221.90 L270.60,211.90 L270.60,231.25 L255.60,240.00 Z" fill="none" stroke="#aaa0b4" stroke-width="0.65"/>
<path d="M267.02,225.24 L270.38,222.94 L273.02,218.24 L276.38,215.94 L279.02,211.24 L282.62,215.56 L279.98,220.26 L276.62,222.56 L273.98,227.26 L270.62,229.56 Z" fill="#5a88e0" opacity="0.25"/>
<circle cx="272.24" cy="222.82" r="0.5" fill="#5a88e0" opacity="0.55"/>
<circle cx="277.25" cy="216.40" r="0.5" fill="#5a88e0" opacity="0.55"/>
<circle cx="270.34" cy="227.47" r="0.5" fill="#5a88e0" opacity="0.55"/>
<circle cx="277.53" cy="218.69" r="0.5" fill="#5a88e0" opacity="0.55"/>
<circle cx="269.81" cy="228.09" r="0.5" fill="#5a88e0" opacity="0.55"/>
<circle cx="276.58" cy="217.33" r="0.5" fill="#5a88e0" opacity="0.55"/>
<circle cx="271.49" cy="223.82" r="0.5" fill="#5a88e0" opacity="0.55"/>
<circle cx="276.00" cy="222.76" r="0.5" fill="#5a88e0" opacity="0.55"/>
<circle cx="273.48" cy="224.92" r="0.5" fill="#5a88e0" opacity="0.55"/>
<circle cx="267.60" cy="228.18" r="0.5" fill="#5a88e0" opacity="0.55"/>
<circle cx="279.94" cy="214.67" r="0.5" fill="#5a88e0" opacity="0.55"/>
<circle cx="272.10" cy="224.85" r="0.5" fill="#5a88e0" opacity="0.55"/>
<circle cx="276.67" cy="220.71" r="0.5" fill="#5a88e0" opacity="0.55"/>
<circle cx="281.55" cy="215.90" r="0.5" fill="#5a88e0" opacity="0.55"/>
<circle cx="276.17" cy="219.96" r="0.5" fill="#5a88e0" opacity="0.55"/>
<circle cx="272.61" cy="224.14" r="0.5" fill="#5a88e0" opacity="0.55"/>
<circle cx="270.34" cy="227.68" r="0.5" fill="#5a88e0" opacity="0.55"/>
<circle cx="274.25" cy="222.16" r="0.5" fill="#5a88e0" opacity="0.55"/>
<circle cx="272.43" cy="224.76" r="0.5" fill="#5a88e0" opacity="0.55"/>
<circle cx="269.03" cy="226.26" r="0.5" fill="#5a88e0" opacity="0.55"/>
<circle cx="271.71" cy="225.68" r="0.5" fill="#5a88e0" opacity="0.55"/>
<circle cx="279.60" cy="216.22" r="0.5" fill="#5a88e0" opacity="0.55"/>
<circle cx="274.92" cy="222.49" r="0.5" fill="#5a88e0" opacity="0.55"/>
<circle cx="272.68" cy="223.27" r="0.5" fill="#5a88e0" opacity="0.55"/>
<circle cx="270.95" cy="228.34" r="0.5" fill="#5a88e0" opacity="0.55"/>
<circle cx="273.05" cy="223.73" r="0.5" fill="#5a88e0" opacity="0.55"/>
<circle cx="271.61" cy="224.24" r="0.5" fill="#5a88e0" opacity="0.55"/>
<circle cx="275.28" cy="222.26" r="0.5" fill="#5a88e0" opacity="0.55"/>
<circle cx="277.39" cy="215.17" r="0.5" fill="#5a88e0" opacity="0.55"/>
<circle cx="278.92" cy="214.39" r="0.5" fill="#5a88e0" opacity="0.55"/>
<circle cx="269.48" cy="226.33" r="0.5" fill="#5a88e0" opacity="0.55"/>
<circle cx="277.58" cy="216.88" r="0.5" fill="#5a88e0" opacity="0.55"/>
<circle cx="270.01" cy="227.11" r="0.5" fill="#5a88e0" opacity="0.55"/>
<circle cx="274.25" cy="222.02" r="0.5" fill="#5a88e0" opacity="0.55"/>
<circle cx="278.56" cy="217.55" r="0.5" fill="#5a88e0" opacity="0.55"/>
<circle cx="276.51" cy="219.91" r="0.5" fill="#5a88e0" opacity="0.55"/>
<circle cx="274.00" cy="222.94" r="0.5" fill="#5a88e0" opacity="0.55"/>
<circle cx="272.37" cy="224.50" r="0.5" fill="#5a88e0" opacity="0.55"/>
<circle cx="274.16" cy="223.24" r="0.5" fill="#5a88e0" opacity="0.55"/>
<circle cx="274.78" cy="222.15" r="0.5" fill="#5a88e0" opacity="0.55"/>
<line x1="269.24" y1="228.07" x2="270.56" y2="225.98" stroke="#5a88e0" stroke-width="0.6" opacity="0.5"/>
<line x1="275.98" y1="220.28" x2="277.71" y2="218.04" stroke="#5a88e0" stroke-width="0.6" opacity="0.5"/>
<line x1="274.19" y1="222.06" x2="275.35" y2="220.28" stroke="#5a88e0" stroke-width="0.6" opacity="0.5"/>
<line x1="279.98" y1="216.10" x2="282.58" y2="214.15" stroke="#5a88e0" stroke-width="0.6" opacity="0.5"/>
<line x1="270.64" y1="226.67" x2="272.39" y2="224.48" stroke="#5a88e0" stroke-width="0.6" opacity="0.5"/>
<line x1="280.97" y1="214.25" x2="281.82" y2="212.39" stroke="#5a88e0" stroke-width="0.6" opacity="0.5"/>
<line x1="277.60" y1="218.97" x2="278.86" y2="216.06" stroke="#5a88e0" stroke-width="0.6" opacity="0.5"/>
<line x1="273.48" y1="222.87" x2="276.59" y2="220.84" stroke="#5a88e0" stroke-width="0.6" opacity="0.5"/>
<path d="M277.02,212.24 L279.00,210.94 L280.27,207.24 L282.25,205.94 L283.52,202.24 L287.12,206.56 L285.86,210.26 L283.87,211.56 L282.61,215.26 L280.62,216.56 Z" fill="#88c088" opacity="0.21"/>
<circle cx="281.02" cy="212.85" r="0.5" fill="#88c088" opacity="0.55"/>
<circle cx="281.51" cy="207.82" r="0.5" fill="#88c088" opacity="0.55"/>
<circle cx="282.77" cy="206.56" r="0.5" fill="#88c088" opacity="0.55"/>
<circle cx="281.73" cy="210.35" r="0.5" fill="#88c088" opacity="0.55"/>
<circle cx="284.31" cy="209.19" r="0.5" fill="#88c088" opacity="0.55"/>
<circle cx="283.04" cy="208.99" r="0.5" fill="#88c088" opacity="0.55"/>
<circle cx="279.72" cy="211.43" r="0.5" fill="#88c088" opacity="0.55"/>
<circle cx="280.72" cy="214.35" r="0.5" fill="#88c088" opacity="0.55"/>
<circle cx="282.30" cy="209.59" r="0.5" fill="#88c088" opacity="0.55"/>
<circle cx="283.67" cy="209.04" r="0.5" fill="#88c088" opacity="0.55"/>
<circle cx="283.25" cy="210.06" r="0.5" fill="#88c088" opacity="0.55"/>
<circle cx="284.09" cy="206.26" r="0.5" fill="#88c088" opacity="0.55"/>
<circle cx="281.97" cy="212.19" r="0.5" fill="#88c088" opacity="0.55"/>
<circle cx="282.05" cy="212.07" r="0.5" fill="#88c088" opacity="0.55"/>
<circle cx="282.78" cy="208.59" r="0.5" fill="#88c088" opacity="0.55"/>
<circle cx="283.91" cy="208.03" r="0.5" fill="#88c088" opacity="0.55"/>
<circle cx="278.73" cy="215.46" r="0.5" fill="#88c088" opacity="0.55"/>
<circle cx="283.95" cy="209.70" r="0.5" fill="#88c088" opacity="0.55"/>
<circle cx="283.19" cy="207.59" r="0.5" fill="#88c088" opacity="0.55"/>
<circle cx="284.67" cy="206.84" r="0.5" fill="#88c088" opacity="0.55"/>
<circle cx="280.77" cy="214.19" r="0.5" fill="#88c088" opacity="0.55"/>
<circle cx="281.92" cy="211.74" r="0.5" fill="#88c088" opacity="0.55"/>
<circle cx="280.37" cy="214.05" r="0.5" fill="#88c088" opacity="0.55"/>
<circle cx="283.80" cy="208.19" r="0.5" fill="#88c088" opacity="0.55"/>
<circle cx="282.12" cy="213.43" r="0.5" fill="#88c088" opacity="0.55"/>
<line x1="279.18" y1="214.63" x2="281.20" y2="212.72" stroke="#88c088" stroke-width="0.6" opacity="0.5"/>
<line x1="283.56" y1="205.13" x2="285.32" y2="201.69" stroke="#88c088" stroke-width="0.6" opacity="0.5"/>
<line x1="280.78" y1="213.43" x2="282.07" y2="211.82" stroke="#88c088" stroke-width="0.6" opacity="0.5"/>
<line x1="280.64" y1="212.85" x2="281.28" y2="210.60" stroke="#88c088" stroke-width="0.6" opacity="0.5"/>
<line x1="278.78" y1="214.54" x2="280.48" y2="213.07" stroke="#88c088" stroke-width="0.6" opacity="0.5"/>
<line x1="229.50" y1="184.60" x2="304.60" y2="184.60" stroke="#383838" stroke-width="1.0"/>
<line x1="304.60" y1="184.60" x2="304.60" y2="248.75" stroke="#383838" stroke-width="1.0"/>
<line x1="229.50" y1="184.20" x2="229.50" y2="249.35" stroke="#151515" stroke-width="1.25"/>
<line x1="228.90" y1="248.75" x2="305.05" y2="248.75" stroke="#151515" stroke-width="1.25"/>
<line x1="227.30" y1="191.60" x2="229.50" y2="191.60" stroke="#151515" stroke-width="1.0"/>
<text x="217.30" y="193.30" font-size="4.8" fill="#444">10<tspan font-size="3.2" dy="-2.2">5</tspan></text>
<line x1="228.40" y1="202.43" x2="229.50" y2="202.43" stroke="#151515" stroke-width="0.6"/>
<line x1="228.40" y1="199.70" x2="229.50" y2="199.70" stroke="#151515" stroke-width="0.6"/>
<line x1="228.40" y1="197.77" x2="229.50" y2="197.77" stroke="#151515" stroke-width="0.6"/>
<line x1="228.40" y1="196.27" x2="229.50" y2="196.27" stroke="#151515" stroke-width="0.6"/>
<line x1="228.40" y1="195.04" x2="229.50" y2="195.04" stroke="#151515" stroke-width="0.6"/>
<line x1="228.40" y1="194.00" x2="229.50" y2="194.00" stroke="#151515" stroke-width="0.6"/>
<line x1="228.40" y1="193.10" x2="229.50" y2="193.10" stroke="#151515" stroke-width="0.6"/>
<line x1="228.40" y1="192.31" x2="229.50" y2="192.31" stroke="#151515" stroke-width="0.6"/>
<line x1="227.30" y1="207.10" x2="229.50" y2="207.10" stroke="#151515" stroke-width="1.0"/>
<text x="217.30" y="208.80" font-size="4.8" fill="#444">10<tspan font-size="3.2" dy="-2.2">4</tspan></text>
<line x1="228.40" y1="217.93" x2="229.50" y2="217.93" stroke="#151515" stroke-width="0.6"/>
<line x1="228.40" y1="215.20" x2="229.50" y2="215.20" stroke="#151515" stroke-width="0.6"/>
<line x1="228.40" y1="213.27" x2="229.50" y2="213.27" stroke="#151515" stroke-width="0.6"/>
<line x1="228.40" y1="211.77" x2="229.50" y2="211.77" stroke="#151515" stroke-width="0.6"/>
<line x1="228.40" y1="210.54" x2="229.50" y2="210.54" stroke="#151515" stroke-width="0.6"/>
<line x1="228.40" y1="209.50" x2="229.50" y2="209.50" stroke="#151515" stroke-width="0.6"/>
<line x1="228.40" y1="208.60" x2="229.50" y2="208.60" stroke="#151515" stroke-width="0.6"/>
<line x1="228.40" y1="207.81" x2="229.50" y2="207.81" stroke="#151515" stroke-width="0.6"/>
<line x1="227.30" y1="223.10" x2="229.50" y2="223.10" stroke="#151515" stroke-width="1.0"/>
<text x="217.30" y="224.80" font-size="4.8" fill="#444">10<tspan font-size="3.2" dy="-2.2">3</tspan></text>
<line x1="228.40" y1="233.93" x2="229.50" y2="233.93" stroke="#151515" stroke-width="0.6"/>
<line x1="228.40" y1="231.20" x2="229.50" y2="231.20" stroke="#151515" stroke-width="0.6"/>
<line x1="228.40" y1="229.27" x2="229.50" y2="229.27" stroke="#151515" stroke-width="0.6"/>
<line x1="228.40" y1="227.77" x2="229.50" y2="227.77" stroke="#151515" stroke-width="0.6"/>
<line x1="228.40" y1="226.54" x2="229.50" y2="226.54" stroke="#151515" stroke-width="0.6"/>
<line x1="228.40" y1="225.50" x2="229.50" y2="225.50" stroke="#151515" stroke-width="0.6"/>
<line x1="228.40" y1="224.60" x2="229.50" y2="224.60" stroke="#151515" stroke-width="0.6"/>
<line x1="228.40" y1="223.81" x2="229.50" y2="223.81" stroke="#151515" stroke-width="0.6"/>
<line x1="227.30" y1="239.00" x2="229.50" y2="239.00" stroke="#151515" stroke-width="1.0"/>
<text x="217.30" y="240.70" font-size="4.8" fill="#444">10<tspan font-size="3.2" dy="-2.2">2</tspan></text>
<line x1="228.40" y1="247.10" x2="229.50" y2="247.10" stroke="#151515" stroke-width="0.6"/>
<line x1="228.40" y1="245.17" x2="229.50" y2="245.17" stroke="#151515" stroke-width="0.6"/>
<line x1="228.40" y1="243.67" x2="229.50" y2="243.67" stroke="#151515" stroke-width="0.6"/>
<line x1="228.40" y1="242.44" x2="229.50" y2="242.44" stroke="#151515" stroke-width="0.6"/>
<line x1="228.40" y1="241.40" x2="229.50" y2="241.40" stroke="#151515" stroke-width="0.6"/>
<line x1="228.40" y1="240.50" x2="229.50" y2="240.50" stroke="#151515" stroke-width="0.6"/>
<line x1="228.40" y1="239.71" x2="229.50" y2="239.71" stroke="#151515" stroke-width="0.6"/>
<line x1="229.80" y1="248.75" x2="229.80" y2="250.95" stroke="#151515" stroke-width="1.0"/>
<line x1="233.70" y1="248.75" x2="233.70" y2="250.95" stroke="#151515" stroke-width="1.0"/>
<line x1="247.40" y1="248.75" x2="247.40" y2="250.95" stroke="#151515" stroke-width="1.0"/>
<line x1="263.60" y1="248.75" x2="263.60" y2="250.95" stroke="#151515" stroke-width="1.0"/>
<line x1="280.20" y1="248.75" x2="280.20" y2="250.95" stroke="#151515" stroke-width="1.0"/>
<line x1="296.70" y1="248.75" x2="296.70" y2="250.95" stroke="#151515" stroke-width="1.0"/>
<line x1="252.28" y1="248.75" x2="252.28" y2="249.85" stroke="#151515" stroke-width="0.55"/>
<line x1="255.13" y1="248.75" x2="255.13" y2="249.85" stroke="#151515" stroke-width="0.55"/>
<line x1="257.15" y1="248.75" x2="257.15" y2="249.85" stroke="#151515" stroke-width="0.55"/>
<line x1="258.72" y1="248.75" x2="258.72" y2="249.85" stroke="#151515" stroke-width="0.55"/>
<line x1="260.01" y1="248.75" x2="260.01" y2="249.85" stroke="#151515" stroke-width="0.55"/>
<line x1="261.09" y1="248.75" x2="261.09" y2="249.85" stroke="#151515" stroke-width="0.55"/>
<line x1="262.03" y1="248.75" x2="262.03" y2="249.85" stroke="#151515" stroke-width="0.55"/>
<line x1="262.86" y1="248.75" x2="262.86" y2="249.85" stroke="#151515" stroke-width="0.55"/>
<line x1="268.48" y1="248.75" x2="268.48" y2="249.85" stroke="#151515" stroke-width="0.55"/>
<line x1="271.33" y1="248.75" x2="271.33" y2="249.85" stroke="#151515" stroke-width="0.55"/>
<line x1="273.35" y1="248.75" x2="273.35" y2="249.85" stroke="#151515" stroke-width="0.55"/>
<line x1="274.92" y1="248.75" x2="274.92" y2="249.85" stroke="#151515" stroke-width="0.55"/>
<line x1="276.21" y1="248.75" x2="276.21" y2="249.85" stroke="#151515" stroke-width="0.55"/>
<line x1="277.29" y1="248.75" x2="277.29" y2="249.85" stroke="#151515" stroke-width="0.55"/>
<line x1="278.23" y1="248.75" x2="278.23" y2="249.85" stroke="#151515" stroke-width="0.55"/>
<line x1="279.06" y1="248.75" x2="279.06" y2="249.85" stroke="#151515" stroke-width="0.55"/>
<line x1="285.08" y1="248.75" x2="285.08" y2="249.85" stroke="#151515" stroke-width="0.55"/>
<line x1="287.93" y1="248.75" x2="287.93" y2="249.85" stroke="#151515" stroke-width="0.55"/>
<line x1="289.95" y1="248.75" x2="289.95" y2="249.85" stroke="#151515" stroke-width="0.55"/>
<line x1="291.52" y1="248.75" x2="291.52" y2="249.85" stroke="#151515" stroke-width="0.55"/>
<line x1="292.81" y1="248.75" x2="292.81" y2="249.85" stroke="#151515" stroke-width="0.55"/>
<line x1="293.89" y1="248.75" x2="293.89" y2="249.85" stroke="#151515" stroke-width="0.55"/>
<line x1="294.83" y1="248.75" x2="294.83" y2="249.85" stroke="#151515" stroke-width="0.55"/>
<line x1="295.66" y1="248.75" x2="295.66" y2="249.85" stroke="#151515" stroke-width="0.55"/>
<line x1="237.82" y1="248.75" x2="237.82" y2="249.85" stroke="#151515" stroke-width="0.55"/>
<line x1="240.24" y1="248.75" x2="240.24" y2="249.85" stroke="#151515" stroke-width="0.55"/>
<line x1="241.95" y1="248.75" x2="241.95" y2="249.85" stroke="#151515" stroke-width="0.55"/>
<line x1="243.28" y1="248.75" x2="243.28" y2="249.85" stroke="#151515" stroke-width="0.55"/>
<line x1="244.36" y1="248.75" x2="244.36" y2="249.85" stroke="#151515" stroke-width="0.55"/>
<line x1="245.28" y1="248.75" x2="245.28" y2="249.85" stroke="#151515" stroke-width="0.55"/>
<line x1="246.07" y1="248.75" x2="246.07" y2="249.85" stroke="#151515" stroke-width="0.55"/>
<line x1="246.77" y1="248.75" x2="246.77" y2="249.85" stroke="#151515" stroke-width="0.55"/>
<text x="231.00" y="261.25" font-size="5.8" fill="#3a3a3a" text-anchor="middle" transform="rotate(-52 231.00 261.25)">0</text>
<text x="238.90" y="260.45" font-size="5.8" fill="#3a3a3a" text-anchor="middle" transform="rotate(-52 238.90 260.45)">10<tspan font-size="3.2" dy="-2.2">1</tspan></text>
<text x="249.30" y="260.45" font-size="5.8" fill="#3a3a3a" text-anchor="middle" transform="rotate(-52 249.30 260.45)">10<tspan font-size="3.2" dy="-2.2">2</tspan></text>
<text x="265.50" y="260.45" font-size="5.8" fill="#3a3a3a" text-anchor="middle" transform="rotate(-52 265.50 260.45)">10<tspan font-size="3.2" dy="-2.2">3</tspan></text>
<text x="282.10" y="260.45" font-size="5.8" fill="#3a3a3a" text-anchor="middle" transform="rotate(-52 282.10 260.45)">10<tspan font-size="3.2" dy="-2.2">4</tspan></text>
<text x="298.60" y="260.45" font-size="5.8" fill="#3a3a3a" text-anchor="middle" transform="rotate(-52 298.60 260.45)">10<tspan font-size="3.2" dy="-2.2">5</tspan></text>
<text x="224.30" y="253.05" font-size="4.8" fill="#3a3a90" text-anchor="start">M</text>
<text x="258.90" y="273.70" font-size="7.6" fill="#2a2a2a" textLength="16.50" lengthAdjust="spacingAndGlyphs" text-anchor="start">FITC-A</text>
<text x="214.70" y="224.40" font-size="7.8" fill="#2a2a2a" textLength="15.40" lengthAdjust="spacingAndGlyphs" text-anchor="start" transform="rotate(-90 214.70 224.40)">FSC-A</text>
<text x="256.90" y="192.10" font-size="5.7" fill="#2a2a2a" textLength="28.70" lengthAdjust="spacingAndGlyphs" text-anchor="start">Hypodiploid</text>
<text x="277.60" y="224.50" font-size="5.6" fill="#2a2a2a" textLength="25.00" lengthAdjust="spacingAndGlyphs" text-anchor="start">Nucleated</text>
<text x="242.60" y="227.20" font-size="5.6" fill="#2a2a2a" textLength="8.80" lengthAdjust="spacingAndGlyphs" text-anchor="start">MN</text>
<text x="354.60" y="170.30" font-size="8.3" fill="#2a2a2a" textLength="27.90" lengthAdjust="spacingAndGlyphs" text-anchor="start">Nilotinib</text>
<text x="349.00" y="180.20" font-size="6.4" fill="#2a2a2a" textLength="40.60" lengthAdjust="spacingAndGlyphs" text-anchor="start">RPMI-Nilo-2-5</text>
<path d="M389.86,208.05 L392.10,207.38 L393.29,205.82 L395.19,204.86 L395.90,202.90 L397.29,201.51 L397.60,199.22 L399.12,197.94 L396.42,195.68 L394.51,196.63 L393.22,198.10 L391.18,198.94 L390.29,200.76 L388.75,202.02 L388.36,204.24 L387.16,205.79 Z" fill="#eef0b8" opacity="0.8"/>
<path d="M389.73,207.95 L391.84,207.16 L392.79,205.40 L394.69,204.44 L395.36,202.45 L396.96,201.24 L397.39,199.04 L399.07,197.90 L397.47,196.55 L395.56,197.51 L394.54,199.21 L392.56,200.10 L391.79,202.01 L390.10,203.15 L389.61,205.29 L388.13,206.60 Z" fill="#7a7628"/>
<path d="M389.36,207.63 L391.14,206.57 L392.12,204.84 L393.80,203.70 L394.65,201.86 L396.21,200.61 L396.96,198.68 L398.54,197.46 L397.84,196.87 L396.15,198.00 L395.15,199.71 L393.42,200.82 L392.52,202.62 L390.93,203.84 L390.16,205.75 L388.66,207.04 Z" fill="#504c14"/>
<rect x="380.40" y="191.70" width="22.20" height="22.60" fill="none" stroke="#a8a8b4" stroke-width="0.7"/>
<line x1="387.80" y1="191.70" x2="387.80" y2="214.30" stroke="#5a5a66" stroke-width="1.0"/>
<clipPath id="cp8"><path d="M357.20,221.00 L372.60,210.90 L372.60,231.10 L357.20,240.50 Z"/></clipPath><g clip-path="url(#cp8)">
<ellipse cx="363.05" cy="229.42" rx="11.00" ry="5.50" fill="#a040b0" opacity="0.17" transform="rotate(-33.3 363.05 229.42)"/>
<ellipse cx="363.05" cy="229.42" rx="7.50" ry="3.80" fill="#a040b0" opacity="0.24" transform="rotate(-33.3 363.05 229.42)"/>
<ellipse cx="363.05" cy="229.42" rx="4.50" ry="2.40" fill="#a040b0" opacity="0.28" transform="rotate(-33.3 363.05 229.42)"/>
<circle cx="364.83" cy="230.41" r="0.55" fill="#a040b0" opacity="0.45"/>
<circle cx="363.78" cy="224.94" r="0.55" fill="#a040b0" opacity="0.45"/>
<circle cx="362.28" cy="230.24" r="0.55" fill="#a040b0" opacity="0.45"/>
<circle cx="360.20" cy="231.67" r="0.55" fill="#a040b0" opacity="0.45"/>
<circle cx="364.52" cy="227.69" r="0.55" fill="#a040b0" opacity="0.45"/>
<circle cx="360.36" cy="235.03" r="0.55" fill="#a040b0" opacity="0.45"/>
<circle cx="366.47" cy="227.64" r="0.55" fill="#a040b0" opacity="0.45"/>
<circle cx="363.37" cy="225.43" r="0.55" fill="#a040b0" opacity="0.45"/>
<circle cx="363.94" cy="228.99" r="0.55" fill="#a040b0" opacity="0.45"/>
<circle cx="370.59" cy="226.53" r="0.55" fill="#a040b0" opacity="0.45"/>
<circle cx="364.64" cy="232.34" r="0.55" fill="#a040b0" opacity="0.45"/>
<circle cx="364.78" cy="226.99" r="0.55" fill="#a040b0" opacity="0.45"/>
<circle cx="364.67" cy="234.31" r="0.55" fill="#a040b0" opacity="0.45"/>
<circle cx="360.64" cy="229.75" r="0.55" fill="#a040b0" opacity="0.45"/>
<circle cx="361.54" cy="228.37" r="0.55" fill="#a040b0" opacity="0.45"/>
<circle cx="363.10" cy="229.59" r="0.55" fill="#a040b0" opacity="0.45"/>
<circle cx="360.86" cy="225.53" r="0.55" fill="#a040b0" opacity="0.45"/>
<circle cx="356.02" cy="229.75" r="0.55" fill="#a040b0" opacity="0.45"/>
<circle cx="365.47" cy="228.10" r="0.55" fill="#a040b0" opacity="0.45"/>
<circle cx="355.61" cy="235.23" r="0.55" fill="#a040b0" opacity="0.45"/>
<circle cx="365.75" cy="226.97" r="0.55" fill="#a040b0" opacity="0.45"/>
<circle cx="364.19" cy="231.20" r="0.55" fill="#a040b0" opacity="0.45"/>
<circle cx="355.87" cy="234.35" r="0.55" fill="#a040b0" opacity="0.45"/>
<circle cx="367.20" cy="230.63" r="0.55" fill="#a040b0" opacity="0.45"/>
<line x1="358.86" y1="227.66" x2="362.09" y2="224.79" stroke="#a040b0" stroke-width="0.6" opacity="0.55"/>
<line x1="361.45" y1="233.42" x2="364.46" y2="229.62" stroke="#a040b0" stroke-width="0.6" opacity="0.55"/>
<line x1="363.69" y1="230.13" x2="366.10" y2="227.95" stroke="#a040b0" stroke-width="0.6" opacity="0.55"/>
<line x1="362.60" y1="230.48" x2="364.97" y2="227.94" stroke="#a040b0" stroke-width="0.6" opacity="0.55"/>
<line x1="366.58" y1="226.54" x2="369.23" y2="224.58" stroke="#a040b0" stroke-width="0.6" opacity="0.55"/>
<line x1="362.76" y1="230.92" x2="365.84" y2="227.47" stroke="#a040b0" stroke-width="0.6" opacity="0.55"/>
</g>
<path d="M357.20,221.00 L372.60,210.90 L372.60,231.10 L357.20,240.50 Z" fill="none" stroke="#aaa0b4" stroke-width="0.65"/>
<path d="M370.02,223.24 L372.38,222.19 L374.02,218.74 L376.38,217.69 L378.02,214.24 L381.62,218.56 L379.98,222.01 L377.62,223.06 L375.98,226.51 L373.62,227.56 Z" fill="#7090e0" opacity="0.10"/>
<circle cx="375.67" cy="222.91" r="0.5" fill="#7090e0" opacity="0.55"/>
<circle cx="376.28" cy="219.09" r="0.5" fill="#7090e0" opacity="0.55"/>
<circle cx="378.54" cy="217.98" r="0.5" fill="#7090e0" opacity="0.55"/>
<circle cx="378.41" cy="219.55" r="0.5" fill="#7090e0" opacity="0.55"/>
<circle cx="374.94" cy="222.05" r="0.5" fill="#7090e0" opacity="0.55"/>
<circle cx="373.99" cy="224.29" r="0.5" fill="#7090e0" opacity="0.55"/>
<circle cx="378.37" cy="217.66" r="0.5" fill="#7090e0" opacity="0.55"/>
<circle cx="376.24" cy="222.38" r="0.5" fill="#7090e0" opacity="0.55"/>
<circle cx="374.32" cy="222.69" r="0.5" fill="#7090e0" opacity="0.55"/>
<circle cx="380.75" cy="217.69" r="0.5" fill="#7090e0" opacity="0.55"/>
<circle cx="379.63" cy="216.95" r="0.5" fill="#7090e0" opacity="0.55"/>
<circle cx="372.20" cy="226.07" r="0.5" fill="#7090e0" opacity="0.55"/>
<line x1="373.39" y1="225.65" x2="375.73" y2="222.58" stroke="#7090e0" stroke-width="0.6" opacity="0.5"/>
<line x1="376.85" y1="219.37" x2="379.83" y2="217.43" stroke="#7090e0" stroke-width="0.6" opacity="0.5"/>
<line x1="330.50" y1="183.80" x2="406.40" y2="183.80" stroke="#383838" stroke-width="1.0"/>
<line x1="406.40" y1="183.80" x2="406.40" y2="248.60" stroke="#383838" stroke-width="1.0"/>
<line x1="330.50" y1="183.40" x2="330.50" y2="249.20" stroke="#151515" stroke-width="1.25"/>
<line x1="329.90" y1="248.60" x2="406.85" y2="248.60" stroke="#151515" stroke-width="1.25"/>
<line x1="328.30" y1="190.80" x2="330.50" y2="190.80" stroke="#151515" stroke-width="1.0"/>
<text x="318.30" y="192.50" font-size="4.8" fill="#444">10<tspan font-size="3.2" dy="-2.2">5</tspan></text>
<line x1="329.40" y1="201.63" x2="330.50" y2="201.63" stroke="#151515" stroke-width="0.6"/>
<line x1="329.40" y1="198.90" x2="330.50" y2="198.90" stroke="#151515" stroke-width="0.6"/>
<line x1="329.40" y1="196.97" x2="330.50" y2="196.97" stroke="#151515" stroke-width="0.6"/>
<line x1="329.40" y1="195.47" x2="330.50" y2="195.47" stroke="#151515" stroke-width="0.6"/>
<line x1="329.40" y1="194.24" x2="330.50" y2="194.24" stroke="#151515" stroke-width="0.6"/>
<line x1="329.40" y1="193.20" x2="330.50" y2="193.20" stroke="#151515" stroke-width="0.6"/>
<line x1="329.40" y1="192.30" x2="330.50" y2="192.30" stroke="#151515" stroke-width="0.6"/>
<line x1="329.40" y1="191.51" x2="330.50" y2="191.51" stroke="#151515" stroke-width="0.6"/>
<line x1="328.30" y1="206.30" x2="330.50" y2="206.30" stroke="#151515" stroke-width="1.0"/>
<text x="318.30" y="208.00" font-size="4.8" fill="#444">10<tspan font-size="3.2" dy="-2.2">4</tspan></text>
<line x1="329.40" y1="217.13" x2="330.50" y2="217.13" stroke="#151515" stroke-width="0.6"/>
<line x1="329.40" y1="214.40" x2="330.50" y2="214.40" stroke="#151515" stroke-width="0.6"/>
<line x1="329.40" y1="212.47" x2="330.50" y2="212.47" stroke="#151515" stroke-width="0.6"/>
<line x1="329.40" y1="210.97" x2="330.50" y2="210.97" stroke="#151515" stroke-width="0.6"/>
<line x1="329.40" y1="209.74" x2="330.50" y2="209.74" stroke="#151515" stroke-width="0.6"/>
<line x1="329.40" y1="208.70" x2="330.50" y2="208.70" stroke="#151515" stroke-width="0.6"/>
<line x1="329.40" y1="207.80" x2="330.50" y2="207.80" stroke="#151515" stroke-width="0.6"/>
<line x1="329.40" y1="207.01" x2="330.50" y2="207.01" stroke="#151515" stroke-width="0.6"/>
<line x1="328.30" y1="222.30" x2="330.50" y2="222.30" stroke="#151515" stroke-width="1.0"/>
<text x="318.30" y="224.00" font-size="4.8" fill="#444">10<tspan font-size="3.2" dy="-2.2">3</tspan></text>
<line x1="329.40" y1="233.13" x2="330.50" y2="233.13" stroke="#151515" stroke-width="0.6"/>
<line x1="329.40" y1="230.40" x2="330.50" y2="230.40" stroke="#151515" stroke-width="0.6"/>
<line x1="329.40" y1="228.47" x2="330.50" y2="228.47" stroke="#151515" stroke-width="0.6"/>
<line x1="329.40" y1="226.97" x2="330.50" y2="226.97" stroke="#151515" stroke-width="0.6"/>
<line x1="329.40" y1="225.74" x2="330.50" y2="225.74" stroke="#151515" stroke-width="0.6"/>
<line x1="329.40" y1="224.70" x2="330.50" y2="224.70" stroke="#151515" stroke-width="0.6"/>
<line x1="329.40" y1="223.80" x2="330.50" y2="223.80" stroke="#151515" stroke-width="0.6"/>
<line x1="329.40" y1="223.01" x2="330.50" y2="223.01" stroke="#151515" stroke-width="0.6"/>
<line x1="328.30" y1="238.20" x2="330.50" y2="238.20" stroke="#151515" stroke-width="1.0"/>
<text x="318.30" y="239.90" font-size="4.8" fill="#444">10<tspan font-size="3.2" dy="-2.2">2</tspan></text>
<line x1="329.40" y1="246.30" x2="330.50" y2="246.30" stroke="#151515" stroke-width="0.6"/>
<line x1="329.40" y1="244.37" x2="330.50" y2="244.37" stroke="#151515" stroke-width="0.6"/>
<line x1="329.40" y1="242.87" x2="330.50" y2="242.87" stroke="#151515" stroke-width="0.6"/>
<line x1="329.40" y1="241.64" x2="330.50" y2="241.64" stroke="#151515" stroke-width="0.6"/>
<line x1="329.40" y1="240.60" x2="330.50" y2="240.60" stroke="#151515" stroke-width="0.6"/>
<line x1="329.40" y1="239.70" x2="330.50" y2="239.70" stroke="#151515" stroke-width="0.6"/>
<line x1="329.40" y1="238.91" x2="330.50" y2="238.91" stroke="#151515" stroke-width="0.6"/>
<line x1="330.80" y1="248.60" x2="330.80" y2="250.80" stroke="#151515" stroke-width="1.0"/>
<line x1="335.00" y1="248.60" x2="335.00" y2="250.80" stroke="#151515" stroke-width="1.0"/>
<line x1="348.90" y1="248.60" x2="348.90" y2="250.80" stroke="#151515" stroke-width="1.0"/>
<line x1="365.40" y1="248.60" x2="365.40" y2="250.80" stroke="#151515" stroke-width="1.0"/>
<line x1="382.40" y1="248.60" x2="382.40" y2="250.80" stroke="#151515" stroke-width="1.0"/>
<line x1="399.20" y1="248.60" x2="399.20" y2="250.80" stroke="#151515" stroke-width="1.0"/>
<line x1="353.87" y1="248.60" x2="353.87" y2="249.70" stroke="#151515" stroke-width="0.55"/>
<line x1="356.77" y1="248.60" x2="356.77" y2="249.70" stroke="#151515" stroke-width="0.55"/>
<line x1="358.83" y1="248.60" x2="358.83" y2="249.70" stroke="#151515" stroke-width="0.55"/>
<line x1="360.43" y1="248.60" x2="360.43" y2="249.70" stroke="#151515" stroke-width="0.55"/>
<line x1="361.74" y1="248.60" x2="361.74" y2="249.70" stroke="#151515" stroke-width="0.55"/>
<line x1="362.84" y1="248.60" x2="362.84" y2="249.70" stroke="#151515" stroke-width="0.55"/>
<line x1="363.80" y1="248.60" x2="363.80" y2="249.70" stroke="#151515" stroke-width="0.55"/>
<line x1="364.65" y1="248.60" x2="364.65" y2="249.70" stroke="#151515" stroke-width="0.55"/>
<line x1="370.37" y1="248.60" x2="370.37" y2="249.70" stroke="#151515" stroke-width="0.55"/>
<line x1="373.27" y1="248.60" x2="373.27" y2="249.70" stroke="#151515" stroke-width="0.55"/>
<line x1="375.33" y1="248.60" x2="375.33" y2="249.70" stroke="#151515" stroke-width="0.55"/>
<line x1="376.93" y1="248.60" x2="376.93" y2="249.70" stroke="#151515" stroke-width="0.55"/>
<line x1="378.24" y1="248.60" x2="378.24" y2="249.70" stroke="#151515" stroke-width="0.55"/>
<line x1="379.34" y1="248.60" x2="379.34" y2="249.70" stroke="#151515" stroke-width="0.55"/>
<line x1="380.30" y1="248.60" x2="380.30" y2="249.70" stroke="#151515" stroke-width="0.55"/>
<line x1="381.15" y1="248.60" x2="381.15" y2="249.70" stroke="#151515" stroke-width="0.55"/>
<line x1="387.37" y1="248.60" x2="387.37" y2="249.70" stroke="#151515" stroke-width="0.55"/>
<line x1="390.27" y1="248.60" x2="390.27" y2="249.70" stroke="#151515" stroke-width="0.55"/>
<line x1="392.33" y1="248.60" x2="392.33" y2="249.70" stroke="#151515" stroke-width="0.55"/>
<line x1="393.93" y1="248.60" x2="393.93" y2="249.70" stroke="#151515" stroke-width="0.55"/>
<line x1="395.24" y1="248.60" x2="395.24" y2="249.70" stroke="#151515" stroke-width="0.55"/>
<line x1="396.34" y1="248.60" x2="396.34" y2="249.70" stroke="#151515" stroke-width="0.55"/>
<line x1="397.30" y1="248.60" x2="397.30" y2="249.70" stroke="#151515" stroke-width="0.55"/>
<line x1="398.15" y1="248.60" x2="398.15" y2="249.70" stroke="#151515" stroke-width="0.55"/>
<line x1="339.18" y1="248.60" x2="339.18" y2="249.70" stroke="#151515" stroke-width="0.55"/>
<line x1="341.63" y1="248.60" x2="341.63" y2="249.70" stroke="#151515" stroke-width="0.55"/>
<line x1="343.37" y1="248.60" x2="343.37" y2="249.70" stroke="#151515" stroke-width="0.55"/>
<line x1="344.72" y1="248.60" x2="344.72" y2="249.70" stroke="#151515" stroke-width="0.55"/>
<line x1="345.82" y1="248.60" x2="345.82" y2="249.70" stroke="#151515" stroke-width="0.55"/>
<line x1="346.75" y1="248.60" x2="346.75" y2="249.70" stroke="#151515" stroke-width="0.55"/>
<line x1="347.55" y1="248.60" x2="347.55" y2="249.70" stroke="#151515" stroke-width="0.55"/>
<line x1="348.26" y1="248.60" x2="348.26" y2="249.70" stroke="#151515" stroke-width="0.55"/>
<text x="332.00" y="261.10" font-size="5.8" fill="#3a3a3a" text-anchor="middle" transform="rotate(-52 332.00 261.10)">0</text>
<text x="340.20" y="260.30" font-size="5.8" fill="#3a3a3a" text-anchor="middle" transform="rotate(-52 340.20 260.30)">10<tspan font-size="3.2" dy="-2.2">1</tspan></text>
<text x="350.80" y="260.30" font-size="5.8" fill="#3a3a3a" text-anchor="middle" transform="rotate(-52 350.80 260.30)">10<tspan font-size="3.2" dy="-2.2">2</tspan></text>
<text x="367.30" y="260.30" font-size="5.8" fill="#3a3a3a" text-anchor="middle" transform="rotate(-52 367.30 260.30)">10<tspan font-size="3.2" dy="-2.2">3</tspan></text>
<text x="384.30" y="260.30" font-size="5.8" fill="#3a3a3a" text-anchor="middle" transform="rotate(-52 384.30 260.30)">10<tspan font-size="3.2" dy="-2.2">4</tspan></text>
<text x="401.10" y="260.30" font-size="5.8" fill="#3a3a3a" text-anchor="middle" transform="rotate(-52 401.10 260.30)">10<tspan font-size="3.2" dy="-2.2">5</tspan></text>
<text x="325.30" y="252.90" font-size="4.8" fill="#3a3a90" text-anchor="start">M</text>
<text x="361.20" y="273.70" font-size="7.6" fill="#2a2a2a" textLength="16.20" lengthAdjust="spacingAndGlyphs" text-anchor="start">FITC-A</text>
<text x="315.70" y="223.60" font-size="7.8" fill="#2a2a2a" textLength="15.40" lengthAdjust="spacingAndGlyphs" text-anchor="start" transform="rotate(-90 315.70 223.60)">FSC-A</text>
<text x="358.20" y="191.60" font-size="5.7" fill="#2a2a2a" textLength="28.90" lengthAdjust="spacingAndGlyphs" text-anchor="start">Hypodiploid</text>
<text x="381.70" y="224.40" font-size="5.6" fill="#2a2a2a" textLength="24.30" lengthAdjust="spacingAndGlyphs" text-anchor="start">Nucleated</text>
<text x="344.70" y="227.10" font-size="5.6" fill="#2a2a2a" textLength="8.50" lengthAdjust="spacingAndGlyphs" text-anchor="start">MN</text>
<line x1="438.60" y1="45.00" x2="438.60" y2="107.10" stroke="#1a1a1a" stroke-width="1.0"/>
<line x1="438.10" y1="106.60" x2="512.50" y2="106.60" stroke="#1a1a1a" stroke-width="1.0"/>
<line x1="436.40" y1="47.80" x2="438.60" y2="47.80" stroke="#1a1a1a" stroke-width="0.9"/>
<text x="432.60" y="50.10" font-size="6.5" fill="#2a2a2a" text-anchor="end">1.4</text>
<line x1="436.40" y1="56.20" x2="438.60" y2="56.20" stroke="#1a1a1a" stroke-width="0.9"/>
<text x="432.60" y="58.50" font-size="6.5" fill="#2a2a2a" text-anchor="end">1.2</text>
<line x1="436.40" y1="64.60" x2="438.60" y2="64.60" stroke="#1a1a1a" stroke-width="0.9"/>
<text x="432.60" y="66.90" font-size="6.5" fill="#2a2a2a" text-anchor="end">1</text>
<line x1="436.40" y1="73.00" x2="438.60" y2="73.00" stroke="#1a1a1a" stroke-width="0.9"/>
<text x="432.60" y="75.30" font-size="6.5" fill="#2a2a2a" text-anchor="end">0.8</text>
<line x1="436.40" y1="81.40" x2="438.60" y2="81.40" stroke="#1a1a1a" stroke-width="0.9"/>
<text x="432.60" y="83.70" font-size="6.5" fill="#2a2a2a" text-anchor="end">0.6</text>
<line x1="436.40" y1="89.80" x2="438.60" y2="89.80" stroke="#1a1a1a" stroke-width="0.9"/>
<text x="432.60" y="92.10" font-size="6.5" fill="#2a2a2a" text-anchor="end">0.4</text>
<line x1="436.40" y1="98.20" x2="438.60" y2="98.20" stroke="#1a1a1a" stroke-width="0.9"/>
<text x="432.60" y="100.50" font-size="6.5" fill="#2a2a2a" text-anchor="end">0.2</text>
<line x1="436.40" y1="106.60" x2="438.60" y2="106.60" stroke="#1a1a1a" stroke-width="0.9"/>
<text x="432.60" y="108.90" font-size="6.5" fill="#2a2a2a" text-anchor="end">0</text>
<line x1="456.30" y1="106.60" x2="456.30" y2="108.60" stroke="#1a1a1a" stroke-width="0.9"/>
<line x1="474.60" y1="106.60" x2="474.60" y2="108.60" stroke="#1a1a1a" stroke-width="0.9"/>
<line x1="492.30" y1="106.60" x2="492.30" y2="108.60" stroke="#1a1a1a" stroke-width="0.9"/>
<line x1="510.00" y1="106.60" x2="510.00" y2="108.60" stroke="#1a1a1a" stroke-width="0.9"/>
<rect x="444.20" y="64.60" width="6.70" height="42.00" fill="#c60d2d"/>
<line x1="447.55" y1="54.52" x2="447.55" y2="64.60" stroke="#c60d2d" stroke-width="0.9"/>
<line x1="446.25" y1="54.52" x2="448.85" y2="54.52" stroke="#c60d2d" stroke-width="0.9"/>
<text x="445.20" y="50.30" font-size="6.6" fill="#333" textLength="5.00" lengthAdjust="spacingAndGlyphs" text-anchor="start">C</text>
<rect x="462.00" y="82.24" width="6.80" height="24.36" fill="#c60d2d"/>
<line x1="465.40" y1="78.46" x2="465.40" y2="82.24" stroke="#c60d2d" stroke-width="0.9"/>
<line x1="464.10" y1="78.46" x2="466.70" y2="78.46" stroke="#c60d2d" stroke-width="0.9"/>
<text x="462.00" y="58.80" font-size="6.4" fill="#333" textLength="6.70" lengthAdjust="spacingAndGlyphs" text-anchor="start">Sh</text>
<text x="457.50" y="66.90" font-size="6.4" fill="#333" textLength="15.00" lengthAdjust="spacingAndGlyphs" text-anchor="start">ABL1</text>
<text x="463.20" y="76.00" font-size="7.5" fill="#333" textLength="3.00" lengthAdjust="spacingAndGlyphs" text-anchor="start">*</text>
<rect x="479.80" y="64.60" width="6.80" height="42.00" fill="#c60d2d"/>
<line x1="483.20" y1="63.76" x2="483.20" y2="64.60" stroke="#c60d2d" stroke-width="0.9"/>
<line x1="481.90" y1="63.76" x2="484.50" y2="63.76" stroke="#c60d2d" stroke-width="0.9"/>
<text x="480.60" y="57.50" font-size="6.6" fill="#333" textLength="5.00" lengthAdjust="spacingAndGlyphs" text-anchor="start">C</text>
<text x="481.70" y="64.50" font-size="7.5" fill="#333" textLength="3.00" lengthAdjust="spacingAndGlyphs" text-anchor="start">*</text>
<rect x="497.60" y="88.54" width="6.80" height="18.06" fill="#c60d2d"/>
<line x1="501.00" y1="81.40" x2="501.00" y2="88.54" stroke="#c60d2d" stroke-width="0.9"/>
<line x1="499.70" y1="81.40" x2="502.30" y2="81.40" stroke="#c60d2d" stroke-width="0.9"/>
<text x="496.90" y="63.00" font-size="6.4" fill="#333" textLength="7.50" lengthAdjust="spacingAndGlyphs" text-anchor="start">Sh</text>
<text x="493.00" y="70.60" font-size="6.4" fill="#333" textLength="15.00" lengthAdjust="spacingAndGlyphs" text-anchor="start">ABL1</text>
<text x="499.40" y="79.70" font-size="7.5" fill="#333" textLength="3.00" lengthAdjust="spacingAndGlyphs" text-anchor="start">*</text>
<text x="419.30" y="105.40" font-size="7.6" fill="#333" textLength="59.70" lengthAdjust="spacingAndGlyphs" text-anchor="start" transform="rotate(-90 419.30 105.40)">Relative micronuclei</text>
<text x="448.00" y="35.10" font-size="6.9" fill="#2a2a2a" textLength="17.70" lengthAdjust="spacingAndGlyphs" text-anchor="start">MM1s</text>
<line x1="442.30" y1="37.00" x2="471.40" y2="37.00" stroke="#222" stroke-width="1.0"/>
<text x="485.00" y="35.10" font-size="6.9" fill="#2a2a2a" textLength="15.30" lengthAdjust="spacingAndGlyphs" text-anchor="start">RPMI</text>
<line x1="478.50" y1="36.60" x2="507.00" y2="36.60" stroke="#222" stroke-width="1.0"/>
<line x1="438.60" y1="180.40" x2="438.60" y2="249.70" stroke="#1a1a1a" stroke-width="1.0"/>
<line x1="438.10" y1="249.20" x2="509.50" y2="249.20" stroke="#1a1a1a" stroke-width="1.0"/>
<line x1="436.40" y1="181.70" x2="438.60" y2="181.70" stroke="#1a1a1a" stroke-width="0.9"/>
<text x="432.60" y="184.00" font-size="6.5" fill="#2a2a2a" text-anchor="end">1.5</text>
<line x1="436.40" y1="204.20" x2="438.60" y2="204.20" stroke="#1a1a1a" stroke-width="0.9"/>
<text x="432.60" y="206.50" font-size="6.5" fill="#2a2a2a" text-anchor="end">1</text>
<line x1="436.40" y1="226.70" x2="438.60" y2="226.70" stroke="#1a1a1a" stroke-width="0.9"/>
<text x="432.60" y="229.00" font-size="6.5" fill="#2a2a2a" text-anchor="end">0.5</text>
<line x1="436.40" y1="249.20" x2="438.60" y2="249.20" stroke="#1a1a1a" stroke-width="0.9"/>
<text x="432.60" y="251.50" font-size="6.5" fill="#2a2a2a" text-anchor="end">0</text>
<line x1="456.30" y1="249.20" x2="456.30" y2="251.20" stroke="#1a1a1a" stroke-width="0.9"/>
<line x1="473.10" y1="249.20" x2="473.10" y2="251.20" stroke="#1a1a1a" stroke-width="0.9"/>
<line x1="490.50" y1="249.20" x2="490.50" y2="251.20" stroke="#1a1a1a" stroke-width="0.9"/>
<line x1="507.90" y1="249.20" x2="507.90" y2="251.20" stroke="#1a1a1a" stroke-width="0.9"/>
<rect x="443.70" y="204.20" width="7.30" height="45.00" fill="#c60d2d"/>
<line x1="447.35" y1="198.35" x2="447.35" y2="204.20" stroke="#c60d2d" stroke-width="0.9"/>
<line x1="446.05" y1="198.35" x2="448.65" y2="198.35" stroke="#c60d2d" stroke-width="0.9"/>
<text x="445.00" y="197.00" font-size="6.6" fill="#333" textLength="5.00" lengthAdjust="spacingAndGlyphs" text-anchor="start">C</text>
<rect x="460.80" y="225.80" width="7.20" height="23.40" fill="#c60d2d"/>
<line x1="464.40" y1="223.10" x2="464.40" y2="225.80" stroke="#c60d2d" stroke-width="0.9"/>
<line x1="463.10" y1="223.10" x2="465.70" y2="223.10" stroke="#c60d2d" stroke-width="0.9"/>
<text x="458.00" y="214.70" font-size="6.4" fill="#333" textLength="13.00" lengthAdjust="spacingAndGlyphs" text-anchor="start">Nilo</text>
<text x="461.80" y="222.00" font-size="7.0" fill="#333" textLength="5.00" lengthAdjust="spacingAndGlyphs" text-anchor="start">**</text>
<rect x="478.50" y="204.20" width="7.00" height="45.00" fill="#c60d2d"/>
<line x1="482.00" y1="196.10" x2="482.00" y2="204.20" stroke="#c60d2d" stroke-width="0.9"/>
<line x1="480.70" y1="196.10" x2="483.30" y2="196.10" stroke="#c60d2d" stroke-width="0.9"/>
<text x="479.60" y="195.30" font-size="6.6" fill="#333" textLength="5.00" lengthAdjust="spacingAndGlyphs" text-anchor="start">C</text>
<rect x="495.70" y="221.75" width="7.10" height="27.45" fill="#c60d2d"/>
<line x1="499.25" y1="218.15" x2="499.25" y2="221.75" stroke="#c60d2d" stroke-width="0.9"/>
<line x1="497.95" y1="218.15" x2="500.55" y2="218.15" stroke="#c60d2d" stroke-width="0.9"/>
<text x="493.50" y="209.90" font-size="6.4" fill="#333" textLength="11.50" lengthAdjust="spacingAndGlyphs" text-anchor="start">Nilo</text>
<text x="496.90" y="217.00" font-size="7.0" fill="#333" textLength="5.00" lengthAdjust="spacingAndGlyphs" text-anchor="start">**</text>
<text x="419.30" y="243.50" font-size="7.6" fill="#333" textLength="60.00" lengthAdjust="spacingAndGlyphs" text-anchor="start" transform="rotate(-90 419.30 243.50)">Relative micronuclei</text>
<text x="444.90" y="178.80" font-size="6.9" fill="#2a2a2a" textLength="17.20" lengthAdjust="spacingAndGlyphs" text-anchor="start">MM1s</text>
<line x1="438.60" y1="180.50" x2="467.70" y2="180.50" stroke="#222" stroke-width="1.0"/>
<text x="485.00" y="178.80" font-size="6.9" fill="#2a2a2a" textLength="14.70" lengthAdjust="spacingAndGlyphs" text-anchor="start">RPMI</text>
<line x1="478.00" y1="180.50" x2="507.90" y2="180.50" stroke="#222" stroke-width="1.0"/>
<line x1="46.00" y1="304.80" x2="46.00" y2="372.20" stroke="#1a1a1a" stroke-width="1.3"/>
<line x1="45.40" y1="371.60" x2="192.00" y2="371.60" stroke="#1a1a1a" stroke-width="1.3"/>
<line x1="52.60" y1="304.80" x2="52.60" y2="371.60" stroke="#1a1a1a" stroke-width="0.9"/>
<line x1="44.50" y1="335.50" x2="192.00" y2="335.50" stroke="#1a1a1a" stroke-width="0.9"/>
<line x1="42.80" y1="310.00" x2="46.00" y2="310.00" stroke="#1a1a1a" stroke-width="1.0"/>
<text x="31.10" y="312.10" font-size="6.0" fill="#2a2a2a" textLength="9.40" lengthAdjust="spacingAndGlyphs" text-anchor="start">3.5</text>
<line x1="42.80" y1="318.70" x2="46.00" y2="318.70" stroke="#1a1a1a" stroke-width="1.0"/>
<text x="31.10" y="320.80" font-size="6.0" fill="#2a2a2a" textLength="9.40" lengthAdjust="spacingAndGlyphs" text-anchor="start">3.0</text>
<line x1="42.80" y1="327.10" x2="46.00" y2="327.10" stroke="#1a1a1a" stroke-width="1.0"/>
<text x="31.10" y="329.20" font-size="6.0" fill="#2a2a2a" textLength="9.40" lengthAdjust="spacingAndGlyphs" text-anchor="start">2.5</text>
<line x1="42.80" y1="335.50" x2="46.00" y2="335.50" stroke="#1a1a1a" stroke-width="1.0"/>
<text x="31.10" y="337.60" font-size="6.0" fill="#2a2a2a" textLength="9.40" lengthAdjust="spacingAndGlyphs" text-anchor="start">2.0</text>
<line x1="42.80" y1="344.00" x2="46.00" y2="344.00" stroke="#1a1a1a" stroke-width="1.0"/>
<text x="31.10" y="346.10" font-size="6.0" fill="#2a2a2a" textLength="9.40" lengthAdjust="spacingAndGlyphs" text-anchor="start">1.5</text>
<line x1="42.80" y1="352.50" x2="46.00" y2="352.50" stroke="#1a1a1a" stroke-width="1.0"/>
<text x="31.10" y="354.60" font-size="6.0" fill="#2a2a2a" textLength="9.40" lengthAdjust="spacingAndGlyphs" text-anchor="start">1.0</text>
<line x1="42.80" y1="369.30" x2="46.00" y2="369.30" stroke="#1a1a1a" stroke-width="1.0"/>
<text x="31.10" y="371.40" font-size="6.0" fill="#2a2a2a" textLength="9.40" lengthAdjust="spacingAndGlyphs" text-anchor="start">0.0</text>
<circle cx="57.50" cy="316.50" r="1.35" fill="#c0102a"/>
<circle cx="59.40" cy="316.50" r="1.35" fill="#c0102a"/>
<circle cx="62.10" cy="314.40" r="1.35" fill="#c0102a"/>
<circle cx="64.20" cy="307.90" r="1.35" fill="#c0102a"/>
<circle cx="65.00" cy="312.50" r="1.35" fill="#c0102a"/>
<circle cx="70.40" cy="315.70" r="1.35" fill="#c0102a"/>
<circle cx="79.60" cy="316.50" r="1.35" fill="#c0102a"/>
<circle cx="91.20" cy="311.70" r="1.35" fill="#c0102a"/>
<circle cx="92.50" cy="314.70" r="1.35" fill="#c0102a"/>
<circle cx="101.90" cy="316.50" r="1.35" fill="#c0102a"/>
<circle cx="105.20" cy="314.70" r="1.35" fill="#c0102a"/>
<circle cx="111.40" cy="307.90" r="1.35" fill="#c0102a"/>
<circle cx="113.20" cy="314.40" r="1.35" fill="#c0102a"/>
<circle cx="125.60" cy="315.20" r="1.35" fill="#c0102a"/>
<circle cx="127.00" cy="317.10" r="1.35" fill="#c0102a"/>
<circle cx="128.90" cy="313.30" r="1.35" fill="#c0102a"/>
<circle cx="133.70" cy="312.20" r="1.35" fill="#c0102a"/>
<circle cx="137.50" cy="316.50" r="1.35" fill="#c0102a"/>
<circle cx="149.00" cy="313.30" r="1.35" fill="#c0102a"/>
<circle cx="150.90" cy="310.30" r="1.35" fill="#c0102a"/>
<circle cx="152.50" cy="310.60" r="1.35" fill="#c0102a"/>
<circle cx="159.80" cy="314.40" r="1.35" fill="#c0102a"/>
<circle cx="161.20" cy="316.50" r="1.35" fill="#c0102a"/>
<circle cx="162.00" cy="312.50" r="1.35" fill="#c0102a"/>
<circle cx="165.20" cy="312.50" r="1.35" fill="#c0102a"/>
<circle cx="171.90" cy="314.40" r="1.35" fill="#c0102a"/>
<circle cx="179.50" cy="315.20" r="1.35" fill="#c0102a"/>
<circle cx="180.50" cy="315.50" r="1.35" fill="#c0102a"/>
<circle cx="183.30" cy="317.00" r="1.35" fill="#c0102a"/>
<circle cx="185.80" cy="313.80" r="1.35" fill="#c0102a"/>
<circle cx="160.50" cy="315.50" r="1.35" fill="#c0102a"/>
<circle cx="72.80" cy="357.50" r="1.25" fill="#234f94"/>
<circle cx="91.20" cy="368.20" r="1.25" fill="#234f94"/>
<circle cx="100.90" cy="357.20" r="1.25" fill="#234f94"/>
<circle cx="100.90" cy="359.20" r="1.25" fill="#234f94"/>
<circle cx="114.90" cy="357.50" r="1.25" fill="#234f94"/>
<circle cx="125.60" cy="361.20" r="1.25" fill="#234f94"/>
<circle cx="149.30" cy="359.60" r="1.25" fill="#234f94"/>
<circle cx="154.40" cy="358.30" r="1.25" fill="#234f94"/>
<circle cx="52.70" cy="353.40" r="1.1" fill="#1a2540"/>
<text x="25.10" y="350.80" font-size="6.9" fill="#2a2a2a" textLength="25.50" lengthAdjust="spacingAndGlyphs" text-anchor="start" transform="rotate(-90 25.10 350.80)">RPdm3w</text>
<text x="111.40" y="383.30" font-size="6.4" fill="#2a2a2a" textLength="22.80" lengthAdjust="spacingAndGlyphs" text-anchor="start">1.0e+08</text>
<line x1="124.30" y1="371.60" x2="124.30" y2="373.40" stroke="#1a1a1a" stroke-width="0.8"/>
<text x="146.40" y="383.30" font-size="6.4" fill="#2a2a2a" textLength="22.80" lengthAdjust="spacingAndGlyphs" text-anchor="start">1.5e+08</text>
<line x1="157.70" y1="371.60" x2="157.70" y2="373.40" stroke="#1a1a1a" stroke-width="0.8"/>
<text x="105.20" y="395.00" font-size="7.6" fill="#2a2a2a" textLength="27.70" lengthAdjust="spacingAndGlyphs" text-anchor="start">Cytoband</text>
<text x="104.60" y="300.30" font-size="8.3" fill="#2a2a2a" textLength="28.30" lengthAdjust="spacingAndGlyphs" text-anchor="start">Control</text>
<text x="13.90" y="348.70" font-size="8.6" fill="#2a2a2a" textLength="20.70" lengthAdjust="spacingAndGlyphs" text-anchor="start" transform="rotate(-90 13.90 348.70)">CHR4</text>
<line x1="225.60" y1="304.50" x2="225.60" y2="371.90" stroke="#1a1a1a" stroke-width="1.3"/>
<line x1="225.00" y1="371.30" x2="371.70" y2="371.30" stroke="#1a1a1a" stroke-width="1.3"/>
<line x1="232.00" y1="304.50" x2="232.00" y2="371.30" stroke="#1a1a1a" stroke-width="0.9"/>
<line x1="224.10" y1="334.30" x2="371.70" y2="334.30" stroke="#1a1a1a" stroke-width="0.9"/>
<line x1="222.40" y1="308.00" x2="225.60" y2="308.00" stroke="#1a1a1a" stroke-width="1.0"/>
<text x="210.70" y="310.10" font-size="6.0" fill="#2a2a2a" textLength="9.40" lengthAdjust="spacingAndGlyphs" text-anchor="start">3.5</text>
<line x1="222.40" y1="316.75" x2="225.60" y2="316.75" stroke="#1a1a1a" stroke-width="1.0"/>
<text x="210.70" y="318.85" font-size="6.0" fill="#2a2a2a" textLength="9.40" lengthAdjust="spacingAndGlyphs" text-anchor="start">3.0</text>
<line x1="222.40" y1="325.50" x2="225.60" y2="325.50" stroke="#1a1a1a" stroke-width="1.0"/>
<text x="210.70" y="327.60" font-size="6.0" fill="#2a2a2a" textLength="9.40" lengthAdjust="spacingAndGlyphs" text-anchor="start">2.5</text>
<line x1="222.40" y1="334.30" x2="225.60" y2="334.30" stroke="#1a1a1a" stroke-width="1.0"/>
<text x="210.70" y="336.40" font-size="6.0" fill="#2a2a2a" textLength="9.40" lengthAdjust="spacingAndGlyphs" text-anchor="start">2.0</text>
<line x1="222.40" y1="343.00" x2="225.60" y2="343.00" stroke="#1a1a1a" stroke-width="1.0"/>
<text x="210.70" y="345.10" font-size="6.0" fill="#2a2a2a" textLength="9.40" lengthAdjust="spacingAndGlyphs" text-anchor="start">1.5</text>
<line x1="222.40" y1="351.75" x2="225.60" y2="351.75" stroke="#1a1a1a" stroke-width="1.0"/>
<text x="210.70" y="353.85" font-size="6.0" fill="#2a2a2a" textLength="9.40" lengthAdjust="spacingAndGlyphs" text-anchor="start">1.0</text>
<line x1="222.40" y1="369.25" x2="225.60" y2="369.25" stroke="#1a1a1a" stroke-width="1.0"/>
<text x="210.70" y="371.35" font-size="6.0" fill="#2a2a2a" textLength="9.40" lengthAdjust="spacingAndGlyphs" text-anchor="start">0.0</text>
<circle cx="241.30" cy="315.50" r="1.35" fill="#c0102a"/>
<circle cx="243.80" cy="315.50" r="1.35" fill="#c0102a"/>
<circle cx="250.50" cy="311.80" r="1.35" fill="#c0102a"/>
<circle cx="258.00" cy="313.80" r="1.35" fill="#c0102a"/>
<circle cx="271.80" cy="313.80" r="1.35" fill="#c0102a"/>
<circle cx="273.80" cy="312.50" r="1.35" fill="#c0102a"/>
<circle cx="273.50" cy="311.90" r="1.35" fill="#c0102a"/>
<circle cx="271.30" cy="313.30" r="1.35" fill="#c0102a"/>
<circle cx="287.70" cy="312.70" r="1.35" fill="#c0102a"/>
<circle cx="291.80" cy="316.00" r="1.35" fill="#c0102a"/>
<circle cx="292.80" cy="312.50" r="1.35" fill="#c0102a"/>
<circle cx="304.40" cy="310.60" r="1.35" fill="#c0102a"/>
<circle cx="309.80" cy="308.70" r="1.35" fill="#c0102a"/>
<circle cx="315.20" cy="307.30" r="1.35" fill="#c0102a"/>
<circle cx="318.70" cy="314.60" r="1.35" fill="#c0102a"/>
<circle cx="331.40" cy="313.80" r="1.35" fill="#c0102a"/>
<circle cx="333.20" cy="311.90" r="1.35" fill="#c0102a"/>
<circle cx="334.00" cy="313.30" r="1.35" fill="#c0102a"/>
<circle cx="347.50" cy="311.90" r="1.35" fill="#c0102a"/>
<circle cx="353.70" cy="315.20" r="1.35" fill="#c0102a"/>
<circle cx="366.40" cy="307.10" r="1.35" fill="#c0102a"/>
<circle cx="295.80" cy="355.00" r="1.25" fill="#234f94"/>
<circle cx="307.10" cy="362.30" r="1.25" fill="#234f94"/>
<circle cx="315.20" cy="355.50" r="1.25" fill="#234f94"/>
<circle cx="315.20" cy="361.70" r="1.25" fill="#234f94"/>
<circle cx="326.00" cy="357.70" r="1.25" fill="#234f94"/>
<circle cx="331.40" cy="357.70" r="1.25" fill="#234f94"/>
<circle cx="336.70" cy="359.00" r="1.25" fill="#234f94"/>
<circle cx="271.50" cy="368.10" r="1.1" fill="#1a2540"/>
<text x="205.70" y="350.00" font-size="6.9" fill="#2a2a2a" textLength="23.50" lengthAdjust="spacingAndGlyphs" text-anchor="start" transform="rotate(-90 205.70 350.00)">RPnil3w</text>
<text x="294.60" y="382.30" font-size="6.4" fill="#2a2a2a" textLength="21.20" lengthAdjust="spacingAndGlyphs" text-anchor="start">1.0e+08</text>
<line x1="305.00" y1="371.30" x2="305.00" y2="373.10" stroke="#1a1a1a" stroke-width="0.8"/>
<text x="328.70" y="382.30" font-size="6.4" fill="#2a2a2a" textLength="21.50" lengthAdjust="spacingAndGlyphs" text-anchor="start">1.5e+08</text>
<line x1="339.00" y1="371.30" x2="339.00" y2="373.10" stroke="#1a1a1a" stroke-width="0.8"/>
<text x="285.60" y="395.30" font-size="7.6" fill="#2a2a2a" textLength="26.90" lengthAdjust="spacingAndGlyphs" text-anchor="start">Cytoband</text>
<text x="282.90" y="299.00" font-size="8.3" fill="#2a2a2a" textLength="32.30" lengthAdjust="spacingAndGlyphs" text-anchor="start">Nilotinib</text>
<line x1="7.80" y1="405.70" x2="374.60" y2="405.70" stroke="#3a3a3a" stroke-width="1.2" stroke-dasharray="4.2 2.7"/>
<line x1="45.80" y1="428.30" x2="45.80" y2="495.60" stroke="#1a1a1a" stroke-width="1.3"/>
<line x1="45.20" y1="495.00" x2="192.00" y2="495.00" stroke="#1a1a1a" stroke-width="1.3"/>
<line x1="52.50" y1="428.30" x2="52.50" y2="495.00" stroke="#1a1a1a" stroke-width="0.9"/>
<line x1="44.30" y1="468.80" x2="192.00" y2="468.80" stroke="#1a1a1a" stroke-width="0.9"/>
<line x1="42.60" y1="430.00" x2="45.80" y2="430.00" stroke="#1a1a1a" stroke-width="1.0"/>
<text x="30.90" y="432.10" font-size="6.0" fill="#2a2a2a" textLength="9.40" lengthAdjust="spacingAndGlyphs" text-anchor="start">4.0</text>
<line x1="42.60" y1="439.80" x2="45.80" y2="439.80" stroke="#1a1a1a" stroke-width="1.0"/>
<text x="30.90" y="441.90" font-size="6.0" fill="#2a2a2a" textLength="9.40" lengthAdjust="spacingAndGlyphs" text-anchor="start">3.5</text>
<line x1="42.60" y1="449.50" x2="45.80" y2="449.50" stroke="#1a1a1a" stroke-width="1.0"/>
<text x="30.90" y="451.60" font-size="6.0" fill="#2a2a2a" textLength="9.40" lengthAdjust="spacingAndGlyphs" text-anchor="start">3.0</text>
<line x1="42.60" y1="459.20" x2="45.80" y2="459.20" stroke="#1a1a1a" stroke-width="1.0"/>
<text x="30.90" y="461.30" font-size="6.0" fill="#2a2a2a" textLength="9.40" lengthAdjust="spacingAndGlyphs" text-anchor="start">2.5</text>
<line x1="42.60" y1="468.80" x2="45.80" y2="468.80" stroke="#1a1a1a" stroke-width="1.0"/>
<text x="30.90" y="470.90" font-size="6.0" fill="#2a2a2a" textLength="9.40" lengthAdjust="spacingAndGlyphs" text-anchor="start">2.0</text>
<line x1="42.60" y1="478.40" x2="45.80" y2="478.40" stroke="#1a1a1a" stroke-width="1.0"/>
<text x="30.90" y="480.50" font-size="6.0" fill="#2a2a2a" textLength="9.40" lengthAdjust="spacingAndGlyphs" text-anchor="start">1.5</text>
<line x1="42.60" y1="488.10" x2="45.80" y2="488.10" stroke="#1a1a1a" stroke-width="1.0"/>
<text x="30.90" y="490.20" font-size="6.0" fill="#2a2a2a" textLength="9.40" lengthAdjust="spacingAndGlyphs" text-anchor="start">1.0</text>
<circle cx="52.50" cy="441.25" r="1.35" fill="#c0102a"/>
<circle cx="53.75" cy="448.75" r="1.35" fill="#c0102a"/>
<circle cx="57.00" cy="442.00" r="1.35" fill="#c0102a"/>
<circle cx="59.50" cy="446.25" r="1.35" fill="#c0102a"/>
<circle cx="63.75" cy="438.75" r="1.35" fill="#c0102a"/>
<circle cx="67.00" cy="447.50" r="1.35" fill="#c0102a"/>
<circle cx="71.25" cy="440.50" r="1.35" fill="#c0102a"/>
<circle cx="73.75" cy="432.00" r="1.35" fill="#c0102a"/>
<circle cx="73.25" cy="439.50" r="1.35" fill="#c0102a"/>
<circle cx="72.50" cy="444.50" r="1.35" fill="#c0102a"/>
<circle cx="74.50" cy="445.00" r="1.35" fill="#c0102a"/>
<circle cx="74.50" cy="448.75" r="1.35" fill="#c0102a"/>
<circle cx="77.50" cy="443.25" r="1.35" fill="#c0102a"/>
<circle cx="89.50" cy="447.50" r="1.35" fill="#c0102a"/>
<circle cx="95.00" cy="448.75" r="1.35" fill="#c0102a"/>
<circle cx="130.75" cy="445.50" r="1.35" fill="#c0102a"/>
<circle cx="138.75" cy="436.25" r="1.35" fill="#c0102a"/>
<circle cx="139.25" cy="446.25" r="1.35" fill="#c0102a"/>
<circle cx="142.50" cy="442.50" r="1.35" fill="#c0102a"/>
<circle cx="170.75" cy="443.00" r="1.35" fill="#c0102a"/>
<circle cx="170.75" cy="447.50" r="1.35" fill="#c0102a"/>
<circle cx="177.00" cy="448.75" r="1.35" fill="#c0102a"/>
<circle cx="182.00" cy="443.00" r="1.35" fill="#c0102a"/>
<circle cx="184.50" cy="445.75" r="1.35" fill="#c0102a"/>
<circle cx="57.50" cy="491.75" r="1.25" fill="#234f94"/>
<circle cx="94.00" cy="490.50" r="1.25" fill="#234f94"/>
<text x="25.80" y="474.50" font-size="6.9" fill="#2a2a2a" textLength="25.80" lengthAdjust="spacingAndGlyphs" text-anchor="start" transform="rotate(-90 25.80 474.50)">RPdm3w</text>
<text x="138.25" y="506.20" font-size="6.4" fill="#2a2a2a" textLength="18.00" lengthAdjust="spacingAndGlyphs" text-anchor="start">1e+08</text>
<line x1="147.00" y1="495.00" x2="147.00" y2="496.80" stroke="#1a1a1a" stroke-width="0.8"/>
<text x="105.30" y="518.70" font-size="7.6" fill="#2a2a2a" textLength="27.70" lengthAdjust="spacingAndGlyphs" text-anchor="start">Cytoband</text>
<text x="104.80" y="422.00" font-size="8.3" fill="#2a2a2a" textLength="28.20" lengthAdjust="spacingAndGlyphs" text-anchor="start">Control</text>
<text x="14.00" y="473.00" font-size="8.6" fill="#2a2a2a" textLength="22.00" lengthAdjust="spacingAndGlyphs" text-anchor="start" transform="rotate(-90 14.00 473.00)">CHR9</text>
<line x1="226.00" y1="428.70" x2="226.00" y2="495.10" stroke="#1a1a1a" stroke-width="1.3"/>
<line x1="225.40" y1="494.50" x2="372.20" y2="494.50" stroke="#1a1a1a" stroke-width="1.3"/>
<line x1="231.50" y1="428.70" x2="231.50" y2="494.50" stroke="#1a1a1a" stroke-width="0.9"/>
<line x1="224.50" y1="464.60" x2="372.20" y2="464.60" stroke="#1a1a1a" stroke-width="0.9"/>
<line x1="222.80" y1="433.60" x2="226.00" y2="433.60" stroke="#1a1a1a" stroke-width="1.0"/>
<text x="211.10" y="435.70" font-size="6.0" fill="#2a2a2a" textLength="9.40" lengthAdjust="spacingAndGlyphs" text-anchor="start">3.5</text>
<line x1="222.80" y1="443.60" x2="226.00" y2="443.60" stroke="#1a1a1a" stroke-width="1.0"/>
<text x="211.10" y="445.70" font-size="6.0" fill="#2a2a2a" textLength="9.40" lengthAdjust="spacingAndGlyphs" text-anchor="start">3.0</text>
<line x1="222.80" y1="453.90" x2="226.00" y2="453.90" stroke="#1a1a1a" stroke-width="1.0"/>
<text x="211.10" y="456.00" font-size="6.0" fill="#2a2a2a" textLength="9.40" lengthAdjust="spacingAndGlyphs" text-anchor="start">2.5</text>
<line x1="222.80" y1="464.60" x2="226.00" y2="464.60" stroke="#1a1a1a" stroke-width="1.0"/>
<text x="211.10" y="466.70" font-size="6.0" fill="#2a2a2a" textLength="9.40" lengthAdjust="spacingAndGlyphs" text-anchor="start">2.0</text>
<line x1="222.80" y1="475.00" x2="226.00" y2="475.00" stroke="#1a1a1a" stroke-width="1.0"/>
<text x="211.10" y="477.10" font-size="6.0" fill="#2a2a2a" textLength="9.40" lengthAdjust="spacingAndGlyphs" text-anchor="start">1.5</text>
<line x1="222.80" y1="485.40" x2="226.00" y2="485.40" stroke="#1a1a1a" stroke-width="1.0"/>
<text x="211.10" y="487.50" font-size="6.0" fill="#2a2a2a" textLength="9.40" lengthAdjust="spacingAndGlyphs" text-anchor="start">1.0</text>
<circle cx="237.00" cy="442.30" r="1.35" fill="#c0102a"/>
<circle cx="241.80" cy="440.40" r="1.35" fill="#c0102a"/>
<circle cx="245.00" cy="438.60" r="1.35" fill="#c0102a"/>
<circle cx="248.00" cy="437.90" r="1.35" fill="#c0102a"/>
<circle cx="248.00" cy="440.80" r="1.35" fill="#c0102a"/>
<circle cx="251.60" cy="431.30" r="1.35" fill="#c0102a"/>
<circle cx="253.50" cy="441.50" r="1.35" fill="#c0102a"/>
<circle cx="255.30" cy="443.40" r="1.35" fill="#c0102a"/>
<circle cx="267.00" cy="432.40" r="1.35" fill="#c0102a"/>
<circle cx="273.60" cy="431.30" r="1.35" fill="#c0102a"/>
<circle cx="325.80" cy="443.00" r="1.35" fill="#c0102a"/>
<circle cx="364.90" cy="439.00" r="1.35" fill="#c0102a"/>
<circle cx="237.00" cy="492.00" r="1.25" fill="#234f94"/>
<text x="205.60" y="473.80" font-size="6.9" fill="#2a2a2a" textLength="24.00" lengthAdjust="spacingAndGlyphs" text-anchor="start" transform="rotate(-90 205.60 473.80)">RPnil3w</text>
<text x="324.70" y="506.20" font-size="6.4" fill="#2a2a2a" textLength="19.30" lengthAdjust="spacingAndGlyphs" text-anchor="start">1e+08</text>
<line x1="334.60" y1="494.50" x2="334.60" y2="496.30" stroke="#1a1a1a" stroke-width="0.8"/>
<text x="283.80" y="518.30" font-size="7.6" fill="#2a2a2a" textLength="28.10" lengthAdjust="spacingAndGlyphs" text-anchor="start">Cytoband</text>
<text x="282.00" y="425.00" font-size="8.3" fill="#2a2a2a" textLength="33.60" lengthAdjust="spacingAndGlyphs" text-anchor="start">Nilotinib</text>
<line x1="418.75" y1="336.00" x2="418.75" y2="447.20" stroke="#1a1a1a" stroke-width="1.0"/>
<line x1="418.25" y1="446.70" x2="513.50" y2="446.70" stroke="#1a1a1a" stroke-width="1.0"/>
<line x1="416.75" y1="446.70" x2="418.75" y2="446.70" stroke="#1a1a1a" stroke-width="0.9"/>
<text x="413.15" y="449.00" font-size="6.4" fill="#2a2a2a" text-anchor="end">0</text>
<line x1="416.75" y1="425.10" x2="418.75" y2="425.10" stroke="#1a1a1a" stroke-width="0.9"/>
<text x="413.15" y="427.40" font-size="6.4" fill="#2a2a2a" text-anchor="end">20</text>
<line x1="416.75" y1="403.50" x2="418.75" y2="403.50" stroke="#1a1a1a" stroke-width="0.9"/>
<text x="413.15" y="405.80" font-size="6.4" fill="#2a2a2a" text-anchor="end">40</text>
<line x1="416.75" y1="381.90" x2="418.75" y2="381.90" stroke="#1a1a1a" stroke-width="0.9"/>
<text x="413.15" y="384.20" font-size="6.4" fill="#2a2a2a" text-anchor="end">60</text>
<line x1="416.75" y1="360.30" x2="418.75" y2="360.30" stroke="#1a1a1a" stroke-width="0.9"/>
<text x="413.15" y="362.60" font-size="6.4" fill="#2a2a2a" text-anchor="end">80</text>
<line x1="416.75" y1="338.70" x2="418.75" y2="338.70" stroke="#1a1a1a" stroke-width="0.9"/>
<text x="413.15" y="341.00" font-size="6.4" fill="#2a2a2a" text-anchor="end">100</text>
<rect x="427.80" y="338.70" width="30.40" height="108.00" fill="#c60d2d"/>
<rect x="474.60" y="387.30" width="30.30" height="59.40" fill="#c60d2d"/>
<text x="432.20" y="334.40" font-size="6.6" fill="#2a2a2a" textLength="20.80" lengthAdjust="spacingAndGlyphs" text-anchor="start">Control</text>
<text x="477.20" y="383.60" font-size="6.6" fill="#2a2a2a" textLength="24.60" lengthAdjust="spacingAndGlyphs" text-anchor="start">Nilotinib</text>
<text x="398.60" y="442.00" font-size="7.4" fill="#2a2a2a" textLength="98.60" lengthAdjust="spacingAndGlyphs" text-anchor="start" transform="rotate(-90 398.60 442.00)">Copy number events (% of control)</text>
</svg>
</body></html>
